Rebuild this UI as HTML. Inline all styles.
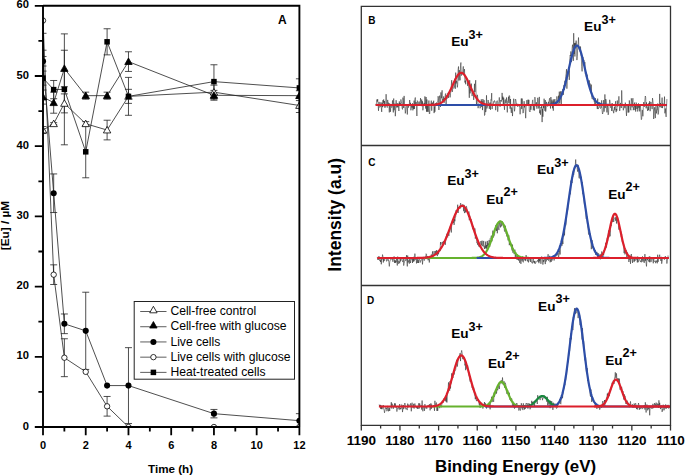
<!DOCTYPE html><html><head><meta charset="utf-8"><style>html,body{margin:0;padding:0;background:#fff;overflow:hidden}svg{display:block}</style></head><body><svg width="685" height="476" viewBox="0 0 685 476">
<rect width="685" height="476" fill="#fff"/>
<defs><clipPath id="cpA"><rect x="43" y="5.8" width="256.4" height="421.2"/></clipPath></defs>
<g clip-path="url(#cpA)">
<polyline points="43.00,130.05 53.68,123.74 64.37,103.38 85.73,123.74 107.10,130.05 128.47,96.36 213.94,92.15 299.40,105.48" fill="none" stroke="#222" stroke-width="0.8"/>
<polyline points="43.00,97.06 53.68,102.68 64.37,68.49 85.73,95.66 107.10,95.66 128.47,61.61 213.94,95.31 299.40,95.66" fill="none" stroke="#222" stroke-width="0.8"/>
<polyline points="43.00,61.26 53.68,193.23 64.37,323.81 85.73,330.83 107.10,385.58 128.47,385.58 213.94,413.66 299.40,420.68" fill="none" stroke="#222" stroke-width="0.8"/>
<polyline points="43.00,20.54 53.68,274.67 64.37,357.71 85.73,371.82 107.10,406.29 128.47,427.00 213.94,427.00 299.40,427.00" fill="none" stroke="#222" stroke-width="0.8"/>
<polyline points="43.00,78.11 53.68,89.62 64.37,89.34 85.73,151.82 107.10,41.81 128.47,96.36 213.94,81.62 299.40,87.93" fill="none" stroke="#222" stroke-width="0.8"/>
<path d="M43.00,126.54V133.56M39.50,126.54h7M39.50,133.56h7" stroke="#222" stroke-width="0.8" fill="none"/>
<path d="M53.68,122.68V124.79M50.18,122.68h7M50.18,124.79h7" stroke="#222" stroke-width="0.8" fill="none"/>
<path d="M64.37,93.90V112.86M60.87,93.90h7M60.87,112.86h7" stroke="#222" stroke-width="0.8" fill="none"/>
<path d="M85.73,121.63V125.84M82.23,121.63h7M82.23,125.84h7" stroke="#222" stroke-width="0.8" fill="none"/>
<path d="M107.10,120.23V139.88M103.60,120.23h7M103.60,139.88h7" stroke="#222" stroke-width="0.8" fill="none"/>
<path d="M128.47,89.34V103.38M124.97,89.34h7M124.97,103.38h7" stroke="#222" stroke-width="0.8" fill="none"/>
<path d="M213.94,85.13V99.17M210.44,85.13h7M210.44,99.17h7" stroke="#222" stroke-width="0.8" fill="none"/>
<path d="M299.40,98.46V112.50M295.90,98.46h7M295.90,112.50h7" stroke="#222" stroke-width="0.8" fill="none"/>
<path d="M43.00,90.04V104.08M39.50,90.04h7M39.50,104.08h7" stroke="#222" stroke-width="0.8" fill="none"/>
<path d="M53.68,92.15V113.21M50.18,92.15h7M50.18,113.21h7" stroke="#222" stroke-width="0.8" fill="none"/>
<path d="M64.37,50.24V86.74M60.87,50.24h7M60.87,86.74h7" stroke="#222" stroke-width="0.8" fill="none"/>
<path d="M85.73,92.15V99.17M82.23,92.15h7M82.23,99.17h7" stroke="#222" stroke-width="0.8" fill="none"/>
<path d="M107.10,92.15V99.17M103.60,92.15h7M103.60,99.17h7" stroke="#222" stroke-width="0.8" fill="none"/>
<path d="M128.47,51.78V71.44M124.97,51.78h7M124.97,71.44h7" stroke="#222" stroke-width="0.8" fill="none"/>
<path d="M213.94,90.39V100.22M210.44,90.39h7M210.44,100.22h7" stroke="#222" stroke-width="0.8" fill="none"/>
<path d="M299.40,90.74V100.57M295.90,90.74h7M295.90,100.57h7" stroke="#222" stroke-width="0.8" fill="none"/>
<path d="M43.00,56.48V66.03M39.50,56.48h7M39.50,66.03h7" stroke="#222" stroke-width="0.8" fill="none"/>
<path d="M53.68,173.93V212.54M50.18,173.93h7M50.18,212.54h7" stroke="#222" stroke-width="0.8" fill="none"/>
<path d="M64.37,313.98V333.63M60.87,313.98h7M60.87,333.63h7" stroke="#222" stroke-width="0.8" fill="none"/>
<path d="M85.73,292.22V369.44M82.23,292.22h7M82.23,369.44h7" stroke="#222" stroke-width="0.8" fill="none"/>
<path d="M128.47,347.67V423.49M124.97,347.67h7M124.97,423.49h7" stroke="#222" stroke-width="0.8" fill="none"/>
<path d="M213.94,409.45V417.87M210.44,409.45h7M210.44,417.87h7" stroke="#222" stroke-width="0.8" fill="none"/>
<path d="M299.40,413.66V427.70M295.90,413.66h7M295.90,427.70h7" stroke="#222" stroke-width="0.8" fill="none"/>
<path d="M53.68,264.84V284.49M50.18,264.84h7M50.18,284.49h7" stroke="#222" stroke-width="0.8" fill="none"/>
<path d="M64.37,338.76V376.67M60.87,338.76h7M60.87,376.67h7" stroke="#222" stroke-width="0.8" fill="none"/>
<path d="M107.10,396.46V416.12M103.60,396.46h7M103.60,416.12h7" stroke="#222" stroke-width="0.8" fill="none"/>
<path d="M43.00,71.09V85.13M39.50,71.09h7M39.50,85.13h7" stroke="#222" stroke-width="0.8" fill="none"/>
<path d="M53.68,80.49V98.74M50.18,80.49h7M50.18,98.74h7" stroke="#222" stroke-width="0.8" fill="none"/>
<path d="M64.37,33.88V144.80M60.87,33.88h7M60.87,144.80h7" stroke="#222" stroke-width="0.8" fill="none"/>
<path d="M85.73,125.84V177.79M82.23,125.84h7M82.23,177.79h7" stroke="#222" stroke-width="0.8" fill="none"/>
<path d="M107.10,28.76V54.87M103.60,28.76h7M103.60,54.87h7" stroke="#222" stroke-width="0.8" fill="none"/>
<path d="M128.47,77.40V115.31M124.97,77.40h7M124.97,115.31h7" stroke="#222" stroke-width="0.8" fill="none"/>
<path d="M213.94,64.77V98.46M210.44,64.77h7M210.44,98.46h7" stroke="#222" stroke-width="0.8" fill="none"/>
<path d="M299.40,78.81V97.06M295.90,78.81h7M295.90,97.06h7" stroke="#222" stroke-width="0.8" fill="none"/>
<path d="M43,33.3V50.2M39.5,33.3h7M39.5,50.2h7" stroke="#222" stroke-width="0.8" fill="none"/>
<polygon points="43.00,126.45 39.30,132.95 46.70,132.95" fill="#fff" stroke="#000" stroke-width="0.8"/>
<polygon points="53.68,120.14 49.98,126.64 57.38,126.64" fill="#fff" stroke="#000" stroke-width="0.8"/>
<polygon points="64.37,99.78 60.67,106.28 68.07,106.28" fill="#fff" stroke="#000" stroke-width="0.8"/>
<polygon points="85.73,120.14 82.03,126.64 89.43,126.64" fill="#fff" stroke="#000" stroke-width="0.8"/>
<polygon points="107.10,126.45 103.40,132.95 110.80,132.95" fill="#fff" stroke="#000" stroke-width="0.8"/>
<polygon points="128.47,92.76 124.77,99.26 132.17,99.26" fill="#fff" stroke="#000" stroke-width="0.8"/>
<polygon points="213.94,88.55 210.24,95.05 217.64,95.05" fill="#fff" stroke="#000" stroke-width="0.8"/>
<polygon points="299.40,101.88 295.70,108.38 303.10,108.38" fill="#fff" stroke="#000" stroke-width="0.8"/>
<polygon points="43.00,93.46 39.30,99.96 46.70,99.96" fill="#000" stroke="#000" stroke-width="0.8"/>
<polygon points="53.68,99.08 49.98,105.58 57.38,105.58" fill="#000" stroke="#000" stroke-width="0.8"/>
<polygon points="64.37,64.89 60.67,71.39 68.07,71.39" fill="#000" stroke="#000" stroke-width="0.8"/>
<polygon points="85.73,92.06 82.03,98.56 89.43,98.56" fill="#000" stroke="#000" stroke-width="0.8"/>
<polygon points="107.10,92.06 103.40,98.56 110.80,98.56" fill="#000" stroke="#000" stroke-width="0.8"/>
<polygon points="128.47,58.01 124.77,64.51 132.17,64.51" fill="#000" stroke="#000" stroke-width="0.8"/>
<polygon points="213.94,91.71 210.24,98.21 217.64,98.21" fill="#000" stroke="#000" stroke-width="0.8"/>
<polygon points="299.40,92.06 295.70,98.56 303.10,98.56" fill="#000" stroke="#000" stroke-width="0.8"/>
<circle cx="43.00" cy="61.26" r="3.05" fill="#000"/>
<circle cx="53.68" cy="193.23" r="3.05" fill="#000"/>
<circle cx="64.37" cy="323.81" r="3.05" fill="#000"/>
<circle cx="85.73" cy="330.83" r="3.05" fill="#000"/>
<circle cx="107.10" cy="385.58" r="3.05" fill="#000"/>
<circle cx="128.47" cy="385.58" r="3.05" fill="#000"/>
<circle cx="213.94" cy="413.66" r="3.05" fill="#000"/>
<circle cx="299.40" cy="420.68" r="3.05" fill="#000"/>
<circle cx="43.00" cy="20.54" r="2.7" fill="#fff" stroke="#000" stroke-width="0.8"/>
<circle cx="53.68" cy="274.67" r="2.7" fill="#fff" stroke="#000" stroke-width="0.8"/>
<circle cx="64.37" cy="357.71" r="2.7" fill="#fff" stroke="#000" stroke-width="0.8"/>
<circle cx="85.73" cy="371.82" r="2.7" fill="#fff" stroke="#000" stroke-width="0.8"/>
<circle cx="107.10" cy="406.29" r="2.7" fill="#fff" stroke="#000" stroke-width="0.8"/>
<circle cx="128.47" cy="427.00" r="2.7" fill="#fff" stroke="#000" stroke-width="0.8"/>
<circle cx="213.94" cy="427.00" r="2.7" fill="#fff" stroke="#000" stroke-width="0.8"/>
<circle cx="299.40" cy="427.00" r="2.7" fill="#fff" stroke="#000" stroke-width="0.8"/>
<rect x="40.25" y="75.36" width="5.5" height="5.5" fill="#000"/>
<rect x="50.93" y="86.87" width="5.5" height="5.5" fill="#000"/>
<rect x="61.62" y="86.59" width="5.5" height="5.5" fill="#000"/>
<rect x="82.98" y="149.07" width="5.5" height="5.5" fill="#000"/>
<rect x="104.35" y="39.06" width="5.5" height="5.5" fill="#000"/>
<rect x="125.72" y="93.61" width="5.5" height="5.5" fill="#000"/>
<rect x="211.19" y="78.87" width="5.5" height="5.5" fill="#000"/>
<rect x="296.65" y="85.18" width="5.5" height="5.5" fill="#000"/>
</g>
<path d="M43,5.8H299.4V427M43,5.8V427H299.4" fill="none" stroke="#000" stroke-width="1.9"/>
<path d="M34.8,427.00H43M34.8,356.80H43M34.8,286.60H43M34.8,216.40H43M34.8,146.20H43M34.8,76.00H43M34.8,5.80H43M38.4,391.90H43M38.4,321.70H43M38.4,251.50H43M38.4,181.30H43M38.4,111.10H43M38.4,40.90H43M43.00,427V435.2M85.73,427V435.2M128.47,427V435.2M171.20,427V435.2M213.94,427V435.2M256.67,427V435.2M299.40,427V435.2M64.37,427V431.4M107.10,427V431.4M149.84,427V431.4M192.57,427V431.4M235.30,427V431.4M278.04,427V431.4" stroke="#000" stroke-width="1.8" fill="none"/>
<text x="28.9" y="429.60" font-family="Liberation Sans, sans-serif" font-size="11.2" font-weight="bold" text-anchor="end">0</text>
<text x="28.9" y="359.40" font-family="Liberation Sans, sans-serif" font-size="11.2" font-weight="bold" text-anchor="end">10</text>
<text x="28.9" y="289.20" font-family="Liberation Sans, sans-serif" font-size="11.2" font-weight="bold" text-anchor="end">20</text>
<text x="28.9" y="219.00" font-family="Liberation Sans, sans-serif" font-size="11.2" font-weight="bold" text-anchor="end">30</text>
<text x="28.9" y="148.80" font-family="Liberation Sans, sans-serif" font-size="11.2" font-weight="bold" text-anchor="end">40</text>
<text x="28.9" y="78.60" font-family="Liberation Sans, sans-serif" font-size="11.2" font-weight="bold" text-anchor="end">50</text>
<text x="28.9" y="8.40" font-family="Liberation Sans, sans-serif" font-size="11.2" font-weight="bold" text-anchor="end">60</text>
<text x="43.00" y="449.4" font-family="Liberation Sans, sans-serif" font-size="11" font-weight="bold" text-anchor="middle">0</text>
<text x="85.73" y="449.4" font-family="Liberation Sans, sans-serif" font-size="11" font-weight="bold" text-anchor="middle">2</text>
<text x="128.47" y="449.4" font-family="Liberation Sans, sans-serif" font-size="11" font-weight="bold" text-anchor="middle">4</text>
<text x="171.20" y="449.4" font-family="Liberation Sans, sans-serif" font-size="11" font-weight="bold" text-anchor="middle">6</text>
<text x="213.94" y="449.4" font-family="Liberation Sans, sans-serif" font-size="11" font-weight="bold" text-anchor="middle">8</text>
<text x="256.67" y="449.4" font-family="Liberation Sans, sans-serif" font-size="11" font-weight="bold" text-anchor="middle">10</text>
<text x="299.40" y="449.4" font-family="Liberation Sans, sans-serif" font-size="11" font-weight="bold" text-anchor="middle">12</text>
<text x="148.1" y="472.9" font-family="Liberation Sans, sans-serif" font-size="10.9" font-weight="bold" textLength="45" lengthAdjust="spacingAndGlyphs">Time (h)</text>
<text transform="translate(8.9,225.6) rotate(-90)" font-family="Liberation Sans, sans-serif" font-size="11.8" font-weight="bold" text-anchor="middle">[Eu] / µM</text>
<text x="282.4" y="24" font-family="Liberation Sans, sans-serif" font-size="12" font-weight="bold" text-anchor="middle">A</text>
<rect x="134.2" y="301.5" width="160.3" height="77.7" fill="#fff" stroke="#222" stroke-width="1"/>
<path d="M140.2,311.50H166.5" stroke="#333" stroke-width="0.8"/>
<polygon points="153.40,306.30 149.70,312.80 157.10,312.80" fill="#fff" stroke="#000" stroke-width="0.8"/>
<text x="170.4" y="315.40" font-family="Liberation Sans, sans-serif" font-size="12.15">Cell-free control</text>
<path d="M140.2,326.72H166.5" stroke="#333" stroke-width="0.8"/>
<polygon points="153.40,321.52 149.70,328.02 157.10,328.02" fill="#000" stroke="#000" stroke-width="0.8"/>
<text x="170.4" y="330.47" font-family="Liberation Sans, sans-serif" font-size="12.15">Cell-free with glucose</text>
<path d="M140.2,341.94H166.5" stroke="#333" stroke-width="0.8"/>
<circle cx="153.40" cy="341.94" r="3.05" fill="#000"/>
<text x="170.4" y="345.54" font-family="Liberation Sans, sans-serif" font-size="12.15">Live cells</text>
<path d="M140.2,357.16H166.5" stroke="#333" stroke-width="0.8"/>
<circle cx="153.40" cy="357.16" r="2.7" fill="#fff" stroke="#000" stroke-width="0.8"/>
<text x="170.4" y="360.61" font-family="Liberation Sans, sans-serif" font-size="12.15">Live cells with glucose</text>
<path d="M140.2,372.38H166.5" stroke="#333" stroke-width="0.8"/>
<rect x="150.65" y="369.63" width="5.5" height="5.5" fill="#000"/>
<text x="170.4" y="375.68" font-family="Liberation Sans, sans-serif" font-size="12.15">Heat-treated cells</text>
<polyline points="375.7,104.4 376.1,105.5 376.5,102.5 376.9,99.5 377.3,101.6 377.7,99.2 378.1,104.5 378.5,110.8 378.9,102.3 379.3,101.9 379.7,107.4 380.1,107.1 380.5,106.5 380.9,102.3 381.3,107.5 381.7,111.9 382.1,102.7 382.5,107.2 382.9,100.2 383.3,102.7 383.7,99.4 384.1,106.5 384.5,101.0 384.9,107.9 385.3,107.0 385.7,105.3 386.1,94.2 386.5,103.9 386.9,106.6 387.3,107.6 387.7,99.9 388.1,105.1 388.5,102.7 388.9,103.4 389.3,112.4 389.7,103.5 390.1,107.3 390.5,111.8 390.9,104.7 391.3,106.8 391.7,107.6 392.1,107.0 392.5,100.4 392.9,106.4 393.3,112.4 393.7,98.5 394.1,110.3 394.5,107.0 394.9,103.5 395.3,116.2 395.7,110.0 396.1,100.2 396.5,105.8 396.9,107.6 397.3,103.4 397.7,107.2 398.1,103.4 398.5,107.0 398.9,111.0 399.3,101.4 399.7,106.0 400.1,103.1 400.5,106.0 400.9,99.4 401.3,101.9 401.7,103.3 402.1,108.2 402.5,109.4 402.9,97.6 403.3,100.5 403.7,108.0 404.1,95.9 404.5,103.9 404.9,106.3 405.3,113.4 405.7,111.0 406.1,106.4 406.5,106.1 406.9,106.4 407.3,114.5 407.7,104.7 408.1,104.8 408.5,107.6 408.9,105.1 409.3,104.6 409.7,100.0 410.1,105.1 410.5,102.8 410.9,110.3 411.3,107.6 411.7,104.3 412.1,107.8 412.5,103.3 412.9,110.4 413.3,105.8 413.7,109.1 414.1,100.6 414.5,108.9 414.9,99.2 415.3,97.5 415.7,105.4 416.1,102.1 416.5,106.6 416.9,116.0 417.3,100.6 417.7,101.1 418.1,104.6 418.5,105.5 418.9,101.9 419.3,101.6 419.7,105.9 420.1,105.2 420.5,98.1 420.9,103.2 421.3,104.2 421.7,99.5 422.1,106.3 422.5,101.3 422.9,110.3 423.3,106.7 423.7,106.2 424.1,102.9 424.5,105.2 424.9,96.4 425.3,101.0 425.7,108.6 426.1,97.0 426.5,111.7 426.9,99.5 427.3,111.7 427.7,104.1 428.1,111.9 428.5,108.7 428.9,100.5 429.3,113.5 429.7,114.0 430.1,106.2 430.5,104.7 430.9,104.8 431.3,100.6 431.7,110.7 432.1,102.9 432.5,105.6 432.9,102.4 433.3,103.6 433.7,100.7 434.1,113.1 434.5,106.4 434.9,111.8 435.3,106.9 435.7,103.1 436.1,104.3 436.5,102.6 436.9,104.7 437.3,102.2 437.7,102.0 438.1,96.2 438.5,98.4 438.9,110.0 439.3,98.0 439.7,95.6 440.1,102.0 440.5,106.9 440.9,92.4 441.3,98.3 441.7,96.0 442.1,90.3 442.5,102.8 442.9,99.2 443.3,100.0 443.7,96.4 444.1,102.9 444.5,98.1 444.9,100.0 445.3,94.7 445.7,93.5 446.1,105.7 446.5,95.5 446.9,98.9 447.3,96.5 447.7,93.8 448.1,92.8 448.5,97.9 448.9,92.4 449.3,92.3 449.7,92.3 450.1,97.4 450.5,93.7 450.9,91.2 451.3,85.3 451.7,80.2 452.1,92.0 452.5,91.5 452.9,85.0 453.3,87.9 453.7,88.4 454.1,87.7 454.5,87.3 454.9,78.7 455.3,88.8 455.7,72.6 456.1,83.5 456.5,80.7 456.9,82.2 457.3,87.4 457.7,84.8 458.1,69.7 458.5,66.5 458.9,80.6 459.3,70.1 459.7,75.7 460.1,80.3 460.5,65.7 460.9,62.5 461.3,75.7 461.7,74.2 462.1,72.5 462.5,74.2 462.9,69.5 463.3,66.4 463.7,75.0 464.1,71.6 464.5,69.1 464.9,82.5 465.3,80.6 465.7,84.3 466.1,77.3 466.5,79.8 466.9,78.5 467.3,79.5 467.7,85.9 468.1,80.9 468.5,87.5 468.9,87.9 469.3,97.8 469.7,80.2 470.1,93.4 470.5,89.2 470.9,90.5 471.3,83.6 471.7,89.4 472.1,96.1 472.5,92.2 472.9,93.5 473.3,92.0 473.7,99.9 474.1,94.4 474.5,83.8 474.9,92.0 475.3,86.0 475.7,80.2 476.1,94.6 476.5,105.0 476.9,99.7 477.3,94.8 477.7,97.0 478.1,108.2 478.5,104.1 478.9,104.1 479.3,103.9 479.7,104.5 480.1,108.3 480.5,107.0 480.9,105.4 481.3,99.3 481.7,106.9 482.1,101.3 482.5,110.1 482.9,99.0 483.3,104.9 483.7,106.0 484.1,100.2 484.5,115.5 484.9,114.8 485.3,106.0 485.7,112.1 486.1,110.1 486.5,95.3 486.9,108.5 487.3,106.4 487.7,106.3 488.1,100.0 488.5,103.1 488.9,102.9 489.3,108.9 489.7,104.4 490.1,102.5 490.5,109.8 490.9,99.6 491.3,100.3 491.7,93.1 492.1,109.1 492.5,105.8 492.9,105.3 493.3,104.0 493.7,101.5 494.1,102.3 494.5,100.5 494.9,101.2 495.3,102.8 495.7,110.2 496.1,105.9 496.5,103.2 496.9,100.9 497.3,100.7 497.7,111.7 498.1,106.2 498.5,103.7 498.9,101.4 499.3,97.4 499.7,102.3 500.1,106.7 500.5,100.1 500.9,100.6 501.3,100.3 501.7,101.6 502.1,92.9 502.5,99.6 502.9,96.6 503.3,105.5 503.7,97.7 504.1,104.8 504.5,109.8 504.9,100.9 505.3,99.5 505.7,103.3 506.1,102.3 506.5,97.5 506.9,104.7 507.3,112.4 507.7,101.1 508.1,101.2 508.5,96.7 508.9,103.2 509.3,95.5 509.7,96.4 510.1,108.7 510.5,99.0 510.9,109.7 511.3,112.9 511.7,107.5 512.1,109.3 512.5,116.1 512.9,105.4 513.3,103.0 513.7,98.7 514.1,104.8 514.5,111.3 514.9,108.4 515.3,99.0 515.7,99.5 516.1,101.4 516.5,105.6 516.9,103.7 517.3,106.1 517.7,106.7 518.1,103.9 518.5,105.2 518.9,106.2 519.3,104.8 519.7,107.6 520.1,114.3 520.5,108.4 520.9,106.3 521.3,98.5 521.7,109.1 522.1,98.5 522.5,101.8 522.9,113.2 523.3,112.8 523.7,108.8 524.1,101.2 524.5,107.4 524.9,105.4 525.3,111.1 525.7,118.2 526.1,107.8 526.5,102.4 526.9,100.1 527.3,105.2 527.7,104.4 528.1,99.6 528.5,105.7 528.9,99.9 529.3,111.2 529.7,111.4 530.1,112.0 530.5,104.9 530.9,109.8 531.3,106.7 531.7,105.4 532.1,105.4 532.5,100.6 532.9,99.8 533.3,110.3 533.7,105.4 534.1,107.0 534.5,110.5 534.9,97.1 535.3,101.4 535.7,105.7 536.1,106.4 536.5,102.3 536.9,108.7 537.3,104.6 537.7,97.8 538.1,99.5 538.5,108.4 538.9,107.5 539.3,96.9 539.7,113.2 540.1,110.3 540.5,114.7 540.9,107.1 541.3,108.1 541.7,104.5 542.1,122.1 542.5,108.8 542.9,116.7 543.3,105.2 543.7,108.2 544.1,98.7 544.5,104.4 544.9,110.8 545.3,100.1 545.7,111.6 546.1,108.3 546.5,101.9 546.9,104.6 547.3,104.7 547.7,106.5 548.1,103.7 548.5,101.8 548.9,103.8 549.3,99.8 549.7,98.2 550.1,104.1 550.5,108.5 550.9,97.0 551.3,104.5 551.7,101.4 552.1,99.7 552.5,108.3 552.9,101.3 553.3,110.7 553.7,99.4 554.1,104.8 554.5,101.7 554.9,99.1 555.3,105.5 555.7,101.8 556.1,105.3 556.5,101.8 556.9,96.4 557.3,100.8 557.7,101.1 558.1,105.1 558.5,95.7 558.9,99.9 559.3,91.6 559.7,103.5 560.1,95.0 560.5,91.4 560.9,100.0 561.3,105.5 561.7,91.4 562.1,92.6 562.5,92.9 562.9,89.1 563.3,94.9 563.7,86.6 564.1,84.9 564.5,89.8 564.9,80.7 565.3,85.4 565.7,76.4 566.1,73.8 566.5,69.2 566.9,88.7 567.3,75.2 567.7,76.9 568.1,73.7 568.5,73.1 568.9,70.7 569.3,79.9 569.7,60.4 570.1,55.0 570.5,55.8 570.9,51.4 571.3,62.1 571.7,60.8 572.1,48.4 572.5,44.7 572.9,50.4 573.3,60.8 573.7,33.2 574.1,54.0 574.5,43.2 574.9,56.5 575.3,42.8 575.7,48.2 576.1,40.6 576.5,44.5 576.9,60.1 577.3,56.3 577.7,47.9 578.1,44.5 578.5,37.5 578.9,47.2 579.3,50.0 579.7,50.5 580.1,51.6 580.5,46.5 580.9,54.8 581.3,56.7 581.7,66.5 582.1,71.4 582.5,60.0 582.9,57.0 583.3,62.0 583.7,59.7 584.1,60.3 584.5,66.0 584.9,62.2 585.3,74.1 585.7,72.2 586.1,76.3 586.5,75.8 586.9,74.5 587.3,74.9 587.7,80.4 588.1,80.2 588.5,86.0 588.9,86.1 589.3,80.4 589.7,89.4 590.1,83.5 590.5,88.9 590.9,92.2 591.3,84.6 591.7,97.3 592.1,99.1 592.5,98.8 592.9,98.4 593.3,99.5 593.7,97.2 594.1,101.4 594.5,100.5 594.9,104.1 595.3,98.1 595.7,105.5 596.1,105.4 596.5,104.5 596.9,103.6 597.3,108.9 597.7,98.6 598.1,109.1 598.5,107.9 598.9,107.6 599.3,107.6 599.7,102.2 600.1,104.0 600.5,108.6 600.9,108.2 601.3,107.8 601.7,100.3 602.1,110.7 602.5,114.0 602.9,113.1 603.3,109.1 603.7,100.1 604.1,111.7 604.5,106.1 604.9,94.4 605.3,108.1 605.7,99.0 606.1,99.9 606.5,103.1 606.9,112.4 607.3,104.6 607.7,107.8 608.1,114.9 608.5,114.1 608.9,105.8 609.3,104.9 609.7,99.8 610.1,102.2 610.5,107.5 610.9,107.4 611.3,106.3 611.7,111.0 612.1,103.0 612.5,106.9 612.9,111.1 613.3,110.7 613.7,113.2 614.1,110.1 614.5,106.8 614.9,110.3 615.3,104.0 615.7,101.2 616.1,112.1 616.5,109.0 616.9,110.6 617.3,100.5 617.7,106.4 618.1,104.8 618.5,103.2 618.9,96.3 619.3,105.3 619.7,110.9 620.1,108.1 620.5,102.9 620.9,105.0 621.3,108.0 621.7,90.4 622.1,102.4 622.5,105.1 622.9,105.5 623.3,110.3 623.7,107.8 624.1,104.4 624.5,105.1 624.9,108.2 625.3,102.6 625.7,105.6 626.1,110.6 626.5,115.9 626.9,105.8 627.3,106.3 627.7,107.3 628.1,112.6 628.5,105.6 628.9,112.4 629.3,100.4 629.7,104.1 630.1,104.0 630.5,108.9 630.9,110.3 631.3,98.3 631.7,101.4 632.1,107.4 632.5,102.6 632.9,98.2 633.3,110.2 633.7,107.3 634.1,107.2 634.5,102.6 634.9,110.1 635.3,104.5 635.7,111.6 636.1,102.5 636.5,103.4 636.9,108.9 637.3,104.8 637.7,111.5 638.1,109.4 638.5,103.4 638.9,107.8 639.3,105.4 639.7,111.4 640.1,104.1 640.5,105.5 640.9,114.1 641.3,119.7 641.7,119.0 642.1,109.9 642.5,110.5 642.9,116.3 643.3,107.4 643.7,102.1 644.1,106.2 644.5,106.8 644.9,100.0 645.3,96.0 645.7,97.4 646.1,108.3 646.5,102.4 646.9,106.3 647.3,108.7 647.7,111.0 648.1,106.4 648.5,110.1 648.9,102.9 649.3,104.9 649.7,101.2 650.1,111.2 650.5,105.5 650.9,102.0 651.3,103.9 651.7,104.6 652.1,109.1 652.5,98.1 652.9,101.0 653.3,104.5 653.7,119.0 654.1,112.0 654.5,107.3 654.9,111.5 655.3,118.1 655.7,107.0 656.1,106.1 656.5,113.4 656.9,109.5 657.3,109.8 657.7,103.5 658.1,114.5 658.5,112.7 658.9,106.7 659.3,107.0 659.7,93.9 660.1,106.8 660.5,103.0 660.9,106.3 661.3,107.9 661.7,103.5 662.1,97.6 662.5,108.1 662.9,103.4 663.3,105.9 663.7,104.9 664.1,106.2 664.5,96.6 664.9,113.3 665.3,108.5 665.7,112.6 666.1,116.9 666.5,107.7 666.9,99.0" fill="none" stroke="#1a1a1a" stroke-width="0.5"/>
<polyline points="400.0,105.00 400.5,105.00 401.0,105.00 401.5,105.00 402.0,105.00 402.5,105.00 403.0,105.00 403.5,105.00 404.0,105.00 404.5,105.00 405.0,105.00 405.5,105.00 406.0,105.00 406.5,105.00 407.0,105.00 407.5,105.00 408.0,105.00 408.5,105.00 409.0,105.00 409.5,105.00 410.0,105.00 410.5,105.00 411.0,105.00 411.5,105.00 412.0,105.00 412.5,105.00 413.0,105.00 413.5,105.00 414.0,105.00 414.5,105.00 415.0,105.00 415.5,105.00 416.0,105.00 416.5,105.00 417.0,105.00 417.5,105.00 418.0,105.00 418.5,105.00 419.0,105.00 419.5,105.00 420.0,105.00 420.5,105.00 421.0,105.00 421.5,105.00 422.0,105.00 422.5,105.00 423.0,105.00 423.5,105.00 424.0,105.00 424.5,105.00 425.0,105.00 425.5,105.00 426.0,105.00 426.5,105.00 427.0,105.00 427.5,105.00 428.0,105.00 428.5,105.00 429.0,105.00 429.5,105.00 430.0,105.00 430.5,105.00 431.0,105.00 431.5,105.00 432.0,105.00 432.5,105.00 433.0,105.00 433.5,105.00 434.0,105.00 434.5,105.00 435.0,105.00 435.5,105.00 436.0,105.00 436.5,105.00 437.0,105.00 437.5,105.00 438.0,105.00 438.5,105.00 439.0,105.00 439.5,105.00 440.0,105.00 440.5,105.00 441.0,105.00 441.5,105.00 442.0,105.00 442.5,105.00 443.0,105.00 443.5,105.00 444.0,105.00 444.5,105.00 445.0,105.00 445.5,105.00 446.0,105.00 446.5,105.00 447.0,105.00 447.5,105.00 448.0,105.00 448.5,105.00 449.0,105.00 449.5,105.00 450.0,105.00 450.5,105.00 451.0,105.00 451.5,105.00 452.0,105.00 452.5,105.00 453.0,105.00 453.5,105.00 454.0,105.00 454.5,105.00 455.0,105.00 455.5,105.00 456.0,105.00 456.5,105.00 457.0,105.00 457.5,105.00 458.0,105.00 458.5,105.00 459.0,105.00 459.5,105.00 460.0,105.00 460.5,105.00 461.0,105.00 461.5,105.00 462.0,105.00 462.5,105.00 463.0,105.00 463.5,105.00 464.0,105.00 464.5,105.00 465.0,105.00 465.5,105.00 466.0,105.00 466.5,105.00 467.0,105.00 467.5,105.00 468.0,105.00 468.5,105.00 469.0,105.00 469.5,105.00 470.0,105.00 470.5,105.00 471.0,105.00 471.5,105.00 472.0,105.00 472.5,105.00 473.0,105.00 473.5,105.00 474.0,105.00 474.5,105.00 475.0,105.00 475.5,105.00 476.0,105.00 476.5,105.00 477.0,105.00 477.5,105.00 478.0,105.00 478.5,105.00 479.0,105.00 479.5,105.00 480.0,105.00 480.5,105.00 481.0,105.00 481.5,105.00 482.0,105.00 482.5,105.00 483.0,105.00 483.5,105.00 484.0,105.00 484.5,105.00 485.0,105.00 485.5,105.00 486.0,105.00 486.5,105.00 487.0,105.00 487.5,105.00 488.0,105.00 488.5,105.00 489.0,105.00 489.5,105.00 490.0,105.00 490.5,105.00 491.0,105.00 491.5,105.00 492.0,105.00 492.5,105.00 493.0,105.00 493.5,105.00 494.0,105.00 494.5,105.00 495.0,105.00 495.5,105.00 496.0,105.00 496.5,105.00 497.0,105.00 497.5,105.00 498.0,105.00 498.5,105.00 499.0,105.00 499.5,105.00 500.0,105.00 500.5,105.00 501.0,105.00 501.5,105.00 502.0,105.00 502.5,105.00 503.0,105.00 503.5,105.00 504.0,105.00 504.5,105.00 505.0,105.00 505.5,105.00 506.0,105.00 506.5,105.00 507.0,105.00 507.5,105.00 508.0,105.00 508.5,105.00 509.0,105.00 509.5,105.00 510.0,105.00 510.5,105.00 511.0,105.00 511.5,105.00 512.0,105.00 512.5,105.00 513.0,105.00 513.5,105.00 514.0,105.00 514.5,105.00 515.0,105.00 515.5,105.00 516.0,105.00 516.5,105.00 517.0,105.00 517.5,105.00 518.0,105.00 518.5,105.00 519.0,105.00 519.5,105.00 520.0,105.00 520.5,105.00 521.0,105.00 521.5,105.00 522.0,105.00 522.5,105.00 523.0,105.00 523.5,105.00 524.0,105.00 524.5,105.00 525.0,105.00 525.5,105.00 526.0,105.00 526.5,105.00 527.0,105.00 527.5,105.00 528.0,105.00 528.5,105.00 529.0,105.00 529.5,105.00 530.0,105.00 530.5,105.00 531.0,105.00 531.5,105.00 532.0,105.00 532.5,105.00 533.0,105.00 533.5,105.00 534.0,105.00 534.5,105.00 535.0,105.00 535.5,105.00 536.0,105.00 536.5,105.00 537.0,105.00 537.5,105.00 538.0,105.00 538.5,105.00 539.0,105.00 539.5,105.00 540.0,105.00 540.5,105.00 541.0,105.00 541.5,105.00 542.0,104.99 542.5,104.99 543.0,104.99 543.5,104.99 544.0,104.98 544.5,104.98 545.0,104.97 545.5,104.97 546.0,104.96 546.5,104.95 547.0,104.93 547.5,104.92 548.0,104.90 548.5,104.87 549.0,104.84 549.5,104.81 550.0,104.76 550.5,104.71 551.0,104.64 551.5,104.56 552.0,104.47 552.5,104.36 553.0,104.23 553.5,104.08 554.0,103.91 554.5,103.70 555.0,103.46 555.5,103.19 556.0,102.87 556.5,102.50 557.0,102.09 557.5,101.62 558.0,101.09 558.5,100.49 559.0,99.82 559.5,99.08 560.0,98.25 560.5,97.34 561.0,96.33 561.5,95.24 562.0,94.04 562.5,92.75 563.0,91.35 563.5,89.86 564.0,88.26 564.5,86.57 565.0,84.78 565.5,82.90 566.0,80.94 566.5,78.91 567.0,76.81 567.5,74.66 568.0,72.46 568.5,70.25 569.0,68.02 569.5,65.80 570.0,63.61 570.5,61.45 571.0,59.36 571.5,57.36 572.0,55.45 572.5,53.66 573.0,52.01 573.5,50.52 574.0,49.19 574.5,48.06 575.0,47.11 575.5,46.38 576.0,45.87 576.5,45.57 577.0,45.50 577.5,45.66 578.0,46.05 578.5,46.65 579.0,47.47 579.5,48.49 580.0,49.70 580.5,51.10 581.0,52.65 581.5,54.36 582.0,56.20 582.5,58.15 583.0,60.19 583.5,62.31 584.0,64.48 584.5,66.69 585.0,68.91 585.5,71.14 586.0,73.34 586.5,75.52 587.0,77.65 587.5,79.73 588.0,81.73 588.5,83.66 589.0,85.50 589.5,87.26 590.0,88.91 590.5,90.47 591.0,91.92 591.5,93.28 592.0,94.53 592.5,95.69 593.0,96.75 593.5,97.71 594.0,98.59 594.5,99.39 595.0,100.10 595.5,100.74 596.0,101.31 596.5,101.82 597.0,102.26 597.5,102.66 598.0,103.00 598.5,103.30 599.0,103.56 599.5,103.79 600.0,103.98 600.5,104.15 601.0,104.29 601.5,104.41 602.0,104.51 602.5,104.60 603.0,104.67 603.5,104.73 604.0,104.78 604.5,104.82 605.0,104.86 605.5,104.88 606.0,104.91 606.5,104.93 607.0,104.94 607.5,104.95 608.0,104.96 608.5,104.97 609.0,104.98 609.5,104.98 610.0,104.99 610.5,104.99 611.0,104.99 611.5,104.99 612.0,105.00 612.5,105.00 613.0,105.00 613.5,105.00 614.0,105.00 614.5,105.00 615.0,105.00 615.5,105.00 616.0,105.00 616.5,105.00 617.0,105.00 617.5,105.00 618.0,105.00 618.5,105.00 619.0,105.00 619.5,105.00 620.0,105.00 620.5,105.00 621.0,105.00 621.5,105.00 622.0,105.00 622.5,105.00 623.0,105.00 623.5,105.00 624.0,105.00 624.5,105.00 625.0,105.00 625.5,105.00 626.0,105.00 626.5,105.00 627.0,105.00 627.5,105.00 628.0,105.00 628.5,105.00 629.0,105.00 629.5,105.00 630.0,105.00 630.5,105.00 631.0,105.00 631.5,105.00 632.0,105.00 632.5,105.00 633.0,105.00 633.5,105.00 634.0,105.00 634.5,105.00 635.0,105.00 635.5,105.00 636.0,105.00 636.5,105.00 637.0,105.00 637.5,105.00 638.0,105.00 638.5,105.00 639.0,105.00 639.5,105.00 640.0,105.00 640.5,105.00 641.0,105.00 641.5,105.00 642.0,105.00 642.5,105.00 643.0,105.00 643.5,105.00 644.0,105.00 644.5,105.00 645.0,105.00 645.5,105.00 646.0,105.00 646.5,105.00 647.0,105.00 647.5,105.00 648.0,105.00 648.5,105.00 649.0,105.00 649.5,105.00 650.0,105.00 650.5,105.00 651.0,105.00 651.5,105.00 652.0,105.00 652.5,105.00 653.0,105.00 653.5,105.00 654.0,105.00 654.5,105.00 655.0,105.00 655.5,105.00 656.0,105.00 656.5,105.00 657.0,105.00 657.5,105.00 658.0,105.00 658.5,105.00 659.0,105.00 659.5,105.00 660.0,105.00 660.5,105.00 661.0,105.00 661.5,105.00 662.0,105.00 662.5,105.00 663.0,105.00 663.5,105.00 664.0,105.00 664.5,105.00 665.0,105.00 665.5,105.00 666.0,105.00 666.5,105.00 667.0,105.00" fill="none" stroke="#2d4ea8" stroke-width="2.2" stroke-linejoin="round"/>
<polyline points="375.7,105.00 376.2,105.00 376.7,105.00 377.2,105.00 377.7,105.00 378.2,105.00 378.7,105.00 379.2,105.00 379.7,105.00 380.2,105.00 380.7,105.00 381.2,105.00 381.7,105.00 382.2,105.00 382.7,105.00 383.2,105.00 383.7,105.00 384.2,105.00 384.7,105.00 385.2,105.00 385.7,105.00 386.2,105.00 386.7,105.00 387.2,105.00 387.7,105.00 388.2,105.00 388.7,105.00 389.2,105.00 389.7,105.00 390.2,105.00 390.7,105.00 391.2,105.00 391.7,105.00 392.2,105.00 392.7,105.00 393.2,105.00 393.7,105.00 394.2,105.00 394.7,105.00 395.2,105.00 395.7,105.00 396.2,105.00 396.7,105.00 397.2,105.00 397.7,105.00 398.2,105.00 398.7,105.00 399.2,105.00 399.7,105.00 400.2,105.00 400.7,105.00 401.2,105.00 401.7,105.00 402.2,105.00 402.7,105.00 403.2,105.00 403.7,105.00 404.2,105.00 404.7,105.00 405.2,105.00 405.7,105.00 406.2,105.00 406.7,105.00 407.2,105.00 407.7,105.00 408.2,105.00 408.7,105.00 409.2,105.00 409.7,105.00 410.2,105.00 410.7,105.00 411.2,105.00 411.7,105.00 412.2,105.00 412.7,105.00 413.2,105.00 413.7,105.00 414.2,105.00 414.7,105.00 415.2,105.00 415.7,105.00 416.2,105.00 416.7,105.00 417.2,105.00 417.7,105.00 418.2,105.00 418.7,105.00 419.2,105.00 419.7,105.00 420.2,105.00 420.7,105.00 421.2,105.00 421.7,105.00 422.2,105.00 422.7,105.00 423.2,105.00 423.7,105.00 424.2,105.00 424.7,105.00 425.2,104.99 425.7,104.99 426.2,104.99 426.7,104.99 427.2,104.98 427.7,104.98 428.2,104.98 428.7,104.97 429.2,104.96 429.7,104.95 430.2,104.94 430.7,104.93 431.2,104.92 431.7,104.90 432.2,104.88 432.7,104.85 433.2,104.82 433.7,104.78 434.2,104.74 434.7,104.69 435.2,104.63 435.7,104.56 436.2,104.48 436.7,104.39 437.2,104.28 437.7,104.16 438.2,104.02 438.7,103.86 439.2,103.68 439.7,103.48 440.2,103.25 440.7,102.99 441.2,102.71 441.7,102.39 442.2,102.03 442.7,101.64 443.2,101.21 443.7,100.74 444.2,100.23 444.7,99.67 445.2,99.07 445.7,98.41 446.2,97.72 446.7,96.97 447.2,96.18 447.7,95.34 448.2,94.46 448.7,93.53 449.2,92.56 449.7,91.56 450.2,90.52 450.7,89.46 451.2,88.37 451.7,87.26 452.2,86.14 452.7,85.02 453.2,83.90 453.7,82.79 454.2,81.70 454.7,80.64 455.2,79.62 455.7,78.63 456.2,77.70 456.7,76.83 457.2,76.03 457.7,75.30 458.2,74.66 458.7,74.10 459.2,73.64 459.7,73.28 460.2,73.01 460.7,72.85 461.2,72.80 461.7,72.85 462.2,73.01 462.7,73.28 463.2,73.64 463.7,74.10 464.2,74.66 464.7,75.30 465.2,76.03 465.7,76.83 466.2,77.70 466.7,78.63 467.2,79.62 467.7,80.64 468.2,81.70 468.7,82.79 469.2,83.90 469.7,85.02 470.2,86.14 470.7,87.26 471.2,88.37 471.7,89.46 472.2,90.52 472.7,91.56 473.2,92.56 473.7,93.53 474.2,94.46 474.7,95.34 475.2,96.18 475.7,96.97 476.2,97.72 476.7,98.41 477.2,99.07 477.7,99.67 478.2,100.23 478.7,100.74 479.2,101.21 479.7,101.64 480.2,102.03 480.7,102.39 481.2,102.71 481.7,102.99 482.2,103.25 482.7,103.48 483.2,103.68 483.7,103.86 484.2,104.02 484.7,104.16 485.2,104.28 485.7,104.39 486.2,104.48 486.7,104.56 487.2,104.63 487.7,104.69 488.2,104.74 488.7,104.78 489.2,104.82 489.7,104.85 490.2,104.88 490.7,104.90 491.2,104.92 491.7,104.93 492.2,104.94 492.7,104.95 493.2,104.96 493.7,104.97 494.2,104.98 494.7,104.98 495.2,104.98 495.7,104.99 496.2,104.99 496.7,104.99 497.2,104.99 497.7,105.00 498.2,105.00 498.7,105.00 499.2,105.00 499.7,105.00 500.2,105.00 500.7,105.00 501.2,105.00 501.7,105.00 502.2,105.00 502.7,105.00 503.2,105.00 503.7,105.00 504.2,105.00 504.7,105.00 505.2,105.00 505.7,105.00 506.2,105.00 506.7,105.00 507.2,105.00 507.7,105.00 508.2,105.00 508.7,105.00 509.2,105.00 509.7,105.00 510.2,105.00 510.7,105.00 511.2,105.00 511.7,105.00 512.2,105.00 512.7,105.00 513.2,105.00 513.7,105.00 514.2,105.00 514.7,105.00 515.2,105.00 515.7,105.00 516.2,105.00 516.7,105.00 517.2,105.00 517.7,105.00 518.2,105.00 518.7,105.00 519.2,105.00 519.7,105.00 520.2,105.00 520.7,105.00 521.2,105.00 521.7,105.00 522.2,105.00 522.7,105.00 523.2,105.00 523.7,105.00 524.2,105.00 524.7,105.00 525.2,105.00 525.7,105.00 526.2,105.00 526.7,105.00 527.2,105.00 527.7,105.00 528.2,105.00 528.7,105.00 529.2,105.00 529.7,105.00 530.2,105.00 530.7,105.00 531.2,105.00 531.7,105.00 532.2,105.00 532.7,105.00 533.2,105.00 533.7,105.00 534.2,105.00 534.7,105.00 535.2,105.00 535.7,105.00 536.2,105.00 536.7,105.00 537.2,105.00 537.7,105.00 538.2,105.00 538.7,105.00 539.2,105.00 539.7,105.00 540.2,105.00 540.7,105.00 541.2,105.00 541.7,105.00 542.2,105.00 542.7,105.00 543.2,105.00 543.7,105.00 544.2,105.00 544.7,105.00 545.2,105.00 545.7,105.00 546.2,105.00 546.7,105.00 547.2,105.00 547.7,105.00 548.2,105.00 548.7,105.00 549.2,105.00 549.7,105.00 550.2,105.00 550.7,105.00 551.2,105.00 551.7,105.00 552.2,105.00 552.7,105.00 553.2,105.00 553.7,105.00 554.2,105.00 554.7,105.00 555.2,105.00 555.7,105.00 556.2,105.00 556.7,105.00 557.2,105.00 557.7,105.00 558.2,105.00 558.7,105.00 559.2,105.00 559.7,105.00 560.2,105.00 560.7,105.00 561.2,105.00 561.7,105.00 562.2,105.00 562.7,105.00 563.2,105.00 563.7,105.00 564.2,105.00 564.7,105.00 565.2,105.00 565.7,105.00 566.2,105.00 566.7,105.00 567.2,105.00 567.7,105.00 568.2,105.00 568.7,105.00 569.2,105.00 569.7,105.00 570.2,105.00 570.7,105.00 571.2,105.00 571.7,105.00 572.2,105.00 572.7,105.00 573.2,105.00 573.7,105.00 574.2,105.00 574.7,105.00 575.2,105.00 575.7,105.00 576.2,105.00 576.7,105.00 577.2,105.00 577.7,105.00 578.2,105.00 578.7,105.00 579.2,105.00 579.7,105.00 580.2,105.00 580.7,105.00 581.2,105.00 581.7,105.00 582.2,105.00 582.7,105.00 583.2,105.00 583.7,105.00 584.2,105.00 584.7,105.00 585.2,105.00 585.7,105.00 586.2,105.00 586.7,105.00 587.2,105.00 587.7,105.00 588.2,105.00 588.7,105.00 589.2,105.00 589.7,105.00 590.2,105.00 590.7,105.00 591.2,105.00 591.7,105.00 592.2,105.00 592.7,105.00 593.2,105.00 593.7,105.00 594.2,105.00 594.7,105.00 595.2,105.00 595.7,105.00 596.2,105.00 596.7,105.00 597.2,105.00 597.7,105.00 598.2,105.00 598.7,105.00 599.2,105.00 599.7,105.00 600.2,105.00 600.7,105.00 601.2,105.00 601.7,105.00 602.2,105.00 602.7,105.00 603.2,105.00 603.7,105.00 604.2,105.00 604.7,105.00 605.2,105.00 605.7,105.00 606.2,105.00 606.7,105.00 607.2,105.00 607.7,105.00 608.2,105.00 608.7,105.00 609.2,105.00 609.7,105.00 610.2,105.00 610.7,105.00 611.2,105.00 611.7,105.00 612.2,105.00 612.7,105.00 613.2,105.00 613.7,105.00 614.2,105.00 614.7,105.00 615.2,105.00 615.7,105.00 616.2,105.00 616.7,105.00 617.2,105.00 617.7,105.00 618.2,105.00 618.7,105.00 619.2,105.00 619.7,105.00 620.2,105.00 620.7,105.00 621.2,105.00 621.7,105.00 622.2,105.00 622.7,105.00 623.2,105.00 623.7,105.00 624.2,105.00 624.7,105.00 625.2,105.00 625.7,105.00 626.2,105.00 626.7,105.00 627.2,105.00 627.7,105.00 628.2,105.00 628.7,105.00 629.2,105.00 629.7,105.00 630.2,105.00 630.7,105.00 631.2,105.00 631.7,105.00 632.2,105.00 632.7,105.00 633.2,105.00 633.7,105.00 634.2,105.00 634.7,105.00 635.2,105.00 635.7,105.00 636.2,105.00 636.7,105.00 637.2,105.00 637.7,105.00 638.2,105.00 638.7,105.00 639.2,105.00 639.7,105.00 640.2,105.00 640.7,105.00 641.2,105.00 641.7,105.00 642.2,105.00 642.7,105.00 643.2,105.00 643.7,105.00 644.2,105.00 644.7,105.00 645.2,105.00 645.7,105.00 646.2,105.00 646.7,105.00 647.2,105.00 647.7,105.00 648.2,105.00 648.7,105.00 649.2,105.00 649.7,105.00 650.2,105.00 650.7,105.00 651.2,105.00 651.7,105.00 652.2,105.00 652.7,105.00 653.2,105.00 653.7,105.00 654.2,105.00 654.7,105.00 655.2,105.00 655.7,105.00 656.2,105.00 656.7,105.00 657.2,105.00 657.7,105.00 658.2,105.00 658.7,105.00 659.2,105.00 659.7,105.00 660.2,105.00 660.7,105.00 661.2,105.00 661.7,105.00 662.2,105.00 662.7,105.00 663.2,105.00 663.7,105.00 664.2,105.00 664.7,105.00 665.2,105.00 665.7,105.00 666.2,105.00 666.7,105.00" fill="none" stroke="#dc1f2b" stroke-width="2.2" stroke-linejoin="round"/>
<polyline points="377.3,256.9 377.7,259.7 378.1,258.9 378.5,259.7 378.9,256.1 379.3,258.0 379.7,260.6 380.1,259.9 380.5,262.0 380.9,259.3 381.3,264.3 381.7,257.2 382.1,259.4 382.5,254.6 382.9,256.3 383.3,262.5 383.7,257.6 384.1,261.1 384.5,259.7 384.9,257.4 385.3,258.9 385.7,258.4 386.1,258.4 386.5,261.3 386.9,261.1 387.3,258.3 387.7,257.7 388.1,260.5 388.5,259.7 388.9,262.5 389.3,266.4 389.7,262.3 390.1,260.4 390.5,260.2 390.9,258.8 391.3,258.8 391.7,258.5 392.1,259.8 392.5,259.4 392.9,261.8 393.3,258.8 393.7,259.0 394.1,256.4 394.5,262.8 394.9,260.1 395.3,263.0 395.7,260.7 396.1,262.3 396.5,258.4 396.9,260.8 397.3,265.5 397.7,256.6 398.1,262.3 398.5,263.7 398.9,260.9 399.3,261.9 399.7,263.3 400.1,258.9 400.5,261.4 400.9,258.5 401.3,259.0 401.7,259.3 402.1,260.6 402.5,261.4 402.9,262.1 403.3,257.7 403.7,265.6 404.1,263.4 404.5,262.1 404.9,259.2 405.3,259.6 405.7,260.8 406.1,260.2 406.5,255.2 406.9,261.0 407.3,266.4 407.7,255.5 408.1,262.5 408.5,261.3 408.9,260.3 409.3,263.7 409.7,257.4 410.1,260.3 410.5,263.0 410.9,258.9 411.3,258.2 411.7,259.4 412.1,258.1 412.5,263.0 412.9,257.3 413.3,261.7 413.7,256.8 414.1,261.3 414.5,259.5 414.9,253.6 415.3,259.7 415.7,257.2 416.1,258.7 416.5,263.4 416.9,257.1 417.3,257.2 417.7,263.0 418.1,259.7 418.5,263.0 418.9,260.1 419.3,257.4 419.7,259.4 420.1,262.6 420.5,262.1 420.9,260.0 421.3,260.2 421.7,259.8 422.1,258.6 422.5,264.4 422.9,259.7 423.3,256.8 423.7,258.1 424.1,260.7 424.5,260.3 424.9,258.2 425.3,256.7 425.7,258.0 426.1,253.7 426.5,254.3 426.9,259.1 427.3,256.0 427.7,258.2 428.1,260.3 428.5,259.1 428.9,257.6 429.3,262.5 429.7,258.8 430.1,256.2 430.5,258.6 430.9,257.7 431.3,254.5 431.7,256.6 432.1,255.9 432.5,251.4 432.9,255.5 433.3,255.0 433.7,254.3 434.1,251.0 434.5,253.8 434.9,254.2 435.3,254.2 435.7,250.9 436.1,255.0 436.5,250.2 436.9,252.5 437.3,256.1 437.7,250.8 438.1,250.9 438.5,254.3 438.9,250.0 439.3,249.5 439.7,249.9 440.1,251.1 440.5,242.0 440.9,244.7 441.3,243.5 441.7,242.6 442.1,242.5 442.5,242.0 442.9,244.5 443.3,241.1 443.7,243.5 444.1,243.9 444.5,240.4 444.9,241.9 445.3,244.8 445.7,240.1 446.1,236.4 446.5,236.8 446.9,233.7 447.3,236.3 447.7,237.3 448.1,232.2 448.5,233.2 448.9,235.9 449.3,230.5 449.7,231.3 450.1,226.8 450.5,226.2 450.9,226.0 451.3,232.5 451.7,224.2 452.1,222.8 452.5,221.6 452.9,221.6 453.3,222.8 453.7,220.5 454.1,224.9 454.5,218.7 454.9,221.3 455.3,217.1 455.7,217.1 456.1,210.2 456.5,213.2 456.9,212.5 457.3,211.2 457.7,204.7 458.1,213.0 458.5,208.5 458.9,207.7 459.3,207.7 459.7,207.2 460.1,208.6 460.5,203.1 460.9,203.7 461.3,207.2 461.7,206.6 462.1,205.1 462.5,204.7 462.9,204.3 463.3,207.1 463.7,211.2 464.1,204.9 464.5,213.1 464.9,211.6 465.3,208.2 465.7,212.4 466.1,206.4 466.5,206.3 466.9,208.4 467.3,212.0 467.7,213.3 468.1,213.9 468.5,216.8 468.9,211.5 469.3,220.2 469.7,215.6 470.1,218.6 470.5,220.2 470.9,219.0 471.3,219.4 471.7,221.6 472.1,225.5 472.5,228.3 472.9,229.3 473.3,226.2 473.7,227.9 474.1,228.8 474.5,233.7 474.9,228.5 475.3,238.6 475.7,235.5 476.1,236.1 476.5,240.3 476.9,243.1 477.3,242.3 477.7,244.8 478.1,243.0 478.5,246.2 478.9,246.5 479.3,243.2 479.7,247.1 480.1,243.8 480.5,243.5 480.9,241.0 481.3,242.6 481.7,245.5 482.1,240.6 482.5,246.0 482.9,245.9 483.3,246.4 483.7,240.9 484.1,246.7 484.5,249.0 484.9,245.7 485.3,247.9 485.7,241.6 486.1,248.9 486.5,245.1 486.9,248.4 487.3,240.9 487.7,246.5 488.1,243.4 488.5,245.3 488.9,240.2 489.3,240.3 489.7,246.9 490.1,238.5 490.5,238.1 490.9,238.4 491.3,235.7 491.7,240.6 492.1,241.2 492.5,234.0 492.9,230.6 493.3,237.5 493.7,236.6 494.1,235.1 494.5,235.2 494.9,228.9 495.3,230.0 495.7,225.9 496.1,225.0 496.5,230.9 496.9,225.7 497.3,233.3 497.7,226.7 498.1,224.2 498.5,227.8 498.9,230.1 499.3,226.0 499.7,220.8 500.1,224.8 500.5,227.4 500.9,222.0 501.3,221.2 501.7,226.4 502.1,224.4 502.5,221.5 502.9,224.2 503.3,223.9 503.7,227.6 504.1,227.9 504.5,231.5 504.9,231.1 505.3,225.7 505.7,231.8 506.1,234.0 506.5,233.8 506.9,236.5 507.3,233.6 507.7,234.0 508.1,240.4 508.5,236.8 508.9,235.5 509.3,245.2 509.7,242.1 510.1,244.4 510.5,242.9 510.9,244.0 511.3,245.3 511.7,248.0 512.1,250.5 512.5,244.6 512.9,252.7 513.3,248.6 513.7,249.4 514.1,254.1 514.5,252.8 514.9,249.7 515.3,258.2 515.7,252.3 516.1,255.5 516.5,256.1 516.9,259.6 517.3,255.7 517.7,259.6 518.1,255.9 518.5,260.5 518.9,256.3 519.3,257.5 519.7,262.8 520.1,259.3 520.5,258.9 520.9,263.9 521.3,259.6 521.7,257.0 522.1,260.7 522.5,256.5 522.9,262.0 523.3,262.4 523.7,258.4 524.1,258.4 524.5,260.3 524.9,259.9 525.3,257.5 525.7,261.1 526.1,255.1 526.5,258.9 526.9,259.2 527.3,259.7 527.7,261.4 528.1,258.1 528.5,262.4 528.9,260.8 529.3,259.7 529.7,258.1 530.1,258.5 530.5,261.9 530.9,258.7 531.3,260.7 531.7,262.7 532.1,262.4 532.5,263.4 532.9,259.0 533.3,257.3 533.7,262.4 534.1,261.1 534.5,263.3 534.9,260.9 535.3,263.7 535.7,262.8 536.1,262.3 536.5,261.6 536.9,261.1 537.3,260.5 537.7,260.3 538.1,261.9 538.5,258.2 538.9,263.2 539.3,258.9 539.7,261.3 540.1,258.8 540.5,258.5 540.9,263.8 541.3,258.5 541.7,256.5 542.1,257.9 542.5,258.9 542.9,264.6 543.3,260.1 543.7,261.8 544.1,257.4 544.5,260.5 544.9,261.4 545.3,264.1 545.7,258.4 546.1,261.5 546.5,260.8 546.9,257.7 547.3,259.9 547.7,259.1 548.1,254.2 548.5,260.7 548.9,260.4 549.3,258.0 549.7,255.8 550.1,262.3 550.5,259.4 550.9,261.1 551.3,261.9 551.7,257.4 552.1,260.5 552.5,257.9 552.9,258.2 553.3,258.0 553.7,258.1 554.1,260.5 554.5,258.1 554.9,257.3 555.3,256.7 555.7,257.8 556.1,254.5 556.5,254.9 556.9,255.5 557.3,253.8 557.7,254.4 558.1,252.7 558.5,258.3 558.9,255.8 559.3,252.7 559.7,250.3 560.1,254.5 560.5,248.6 560.9,246.2 561.3,245.7 561.7,244.3 562.1,245.6 562.5,240.2 562.9,244.0 563.3,234.3 563.7,236.5 564.1,230.0 564.5,235.4 564.9,227.3 565.3,225.6 565.7,225.8 566.1,224.2 566.5,214.7 566.9,214.3 567.3,208.4 567.7,210.1 568.1,206.5 568.5,202.8 568.9,198.6 569.3,196.5 569.7,192.3 570.1,193.6 570.5,194.3 570.9,180.6 571.3,184.6 571.7,181.7 572.1,182.9 572.5,176.0 572.9,176.6 573.3,171.2 573.7,174.9 574.1,170.6 574.5,167.8 574.9,168.2 575.3,164.9 575.7,159.5 576.1,166.8 576.5,165.8 576.9,164.7 577.3,169.7 577.7,171.7 578.1,164.8 578.5,167.5 578.9,177.3 579.3,178.4 579.7,172.5 580.1,172.7 580.5,176.4 580.9,178.6 581.3,176.8 581.7,184.2 582.1,182.0 582.5,184.7 582.9,194.2 583.3,191.8 583.7,196.6 584.1,201.7 584.5,205.1 584.9,204.4 585.3,208.3 585.7,208.6 586.1,219.0 586.5,218.6 586.9,216.4 587.3,222.2 587.7,226.7 588.1,228.3 588.5,234.0 588.9,234.7 589.3,231.6 589.7,234.7 590.1,233.5 590.5,239.4 590.9,241.0 591.3,249.2 591.7,244.2 592.1,240.2 592.5,245.1 592.9,248.3 593.3,246.0 593.7,247.8 594.1,249.7 594.5,252.1 594.9,251.4 595.3,250.2 595.7,254.9 596.1,252.4 596.5,253.2 596.9,251.9 597.3,253.9 597.7,257.9 598.1,253.0 598.5,256.8 598.9,258.8 599.3,256.1 599.7,257.3 600.1,253.9 600.5,259.3 600.9,258.6 601.3,256.4 601.7,251.5 602.1,252.9 602.5,257.2 602.9,258.2 603.3,254.0 603.7,255.2 604.1,249.7 604.5,249.5 604.9,248.9 605.3,248.7 605.7,242.8 606.1,247.6 606.5,247.3 606.9,239.8 607.3,237.8 607.7,240.7 608.1,236.6 608.5,230.5 608.9,237.3 609.3,234.0 609.7,230.8 610.1,236.3 610.5,229.3 610.9,225.2 611.3,225.9 611.7,221.0 612.1,220.1 612.5,221.8 612.9,217.7 613.3,216.8 613.7,222.0 614.1,219.0 614.5,218.4 614.9,217.5 615.3,217.5 615.7,220.8 616.1,217.2 616.5,223.5 616.9,216.5 617.3,219.6 617.7,217.7 618.1,222.0 618.5,225.7 618.9,229.7 619.3,225.3 619.7,228.8 620.1,229.6 620.5,230.6 620.9,231.5 621.3,236.9 621.7,234.3 622.1,241.1 622.5,242.8 622.9,242.7 623.3,243.4 623.7,243.9 624.1,253.1 624.5,246.4 624.9,254.4 625.3,252.9 625.7,251.2 626.1,249.9 626.5,255.7 626.9,258.0 627.3,252.4 627.7,254.6 628.1,258.5 628.5,257.5 628.9,262.0 629.3,256.5 629.7,259.5 630.1,255.8 630.5,263.8 630.9,257.4 631.3,254.0 631.7,258.6 632.1,258.4 632.5,262.9 632.9,257.6 633.3,258.3 633.7,259.8 634.1,262.1 634.5,258.3 634.9,261.0 635.3,259.9 635.7,258.2 636.1,259.3 636.5,259.4 636.9,257.4 637.3,262.4 637.7,256.5 638.1,262.3 638.5,261.8 638.9,259.3 639.3,257.9 639.7,259.3 640.1,261.0 640.5,261.7 640.9,260.7 641.3,262.3 641.7,258.7 642.1,260.5 642.5,256.4 642.9,261.8 643.3,260.4 643.7,259.2 644.1,262.9 644.5,262.0 644.9,254.1 645.3,260.8 645.7,257.4 646.1,263.2 646.5,266.4 646.9,259.2 647.3,260.2 647.7,259.1 648.1,260.1 648.5,260.4 648.9,261.7 649.3,256.4 649.7,262.3 650.1,256.7 650.5,259.7 650.9,262.1 651.3,261.4 651.7,258.0 652.1,258.8 652.5,259.6 652.9,260.6 653.3,263.3 653.7,257.5 654.1,261.4 654.5,261.5 654.9,261.2 655.3,260.9 655.7,263.2 656.1,260.7 656.5,261.5 656.9,260.6 657.3,263.3 657.7,254.7 658.1,261.9 658.5,258.2 658.9,258.2 659.3,256.7 659.7,254.7 660.1,258.4 660.5,258.0 660.9,261.0 661.3,256.8 661.7,263.7 662.1,261.1 662.5,259.9 662.9,258.7 663.3,258.3 663.7,257.3 664.1,258.5 664.5,259.6 664.9,259.0 665.3,256.1 665.7,258.7 666.1,257.3 666.5,259.7 666.9,263.6 667.3,260.8 667.7,258.7 668.1,255.7 668.5,256.2" fill="none" stroke="#1a1a1a" stroke-width="0.5"/>
<polyline points="425.0,258.00 425.5,258.00 426.0,258.00 426.5,258.00 427.0,258.00 427.5,258.00 428.0,258.00 428.5,258.00 429.0,258.00 429.5,258.00 430.0,258.00 430.5,258.00 431.0,258.00 431.5,258.00 432.0,258.00 432.5,258.00 433.0,258.00 433.5,258.00 434.0,258.00 434.5,258.00 435.0,258.00 435.5,258.00 436.0,258.00 436.5,258.00 437.0,258.00 437.5,258.00 438.0,258.00 438.5,258.00 439.0,258.00 439.5,258.00 440.0,258.00 440.5,258.00 441.0,258.00 441.5,258.00 442.0,258.00 442.5,258.00 443.0,258.00 443.5,258.00 444.0,258.00 444.5,258.00 445.0,258.00 445.5,258.00 446.0,258.00 446.5,258.00 447.0,258.00 447.5,258.00 448.0,258.00 448.5,258.00 449.0,258.00 449.5,258.00 450.0,258.00 450.5,258.00 451.0,258.00 451.5,258.00 452.0,258.00 452.5,258.00 453.0,258.00 453.5,258.00 454.0,258.00 454.5,258.00 455.0,258.00 455.5,258.00 456.0,258.00 456.5,258.00 457.0,258.00 457.5,258.00 458.0,258.00 458.5,258.00 459.0,258.00 459.5,258.00 460.0,258.00 460.5,258.00 461.0,258.00 461.5,258.00 462.0,258.00 462.5,258.00 463.0,258.00 463.5,258.00 464.0,258.00 464.5,258.00 465.0,258.00 465.5,258.00 466.0,258.00 466.5,258.00 467.0,258.00 467.5,258.00 468.0,258.00 468.5,258.00 469.0,257.99 469.5,257.99 470.0,257.99 470.5,257.99 471.0,257.98 471.5,257.98 472.0,257.97 472.5,257.96 473.0,257.95 473.5,257.94 474.0,257.92 474.5,257.90 475.0,257.88 475.5,257.85 476.0,257.81 476.5,257.76 477.0,257.71 477.5,257.64 478.0,257.56 478.5,257.46 479.0,257.35 479.5,257.22 480.0,257.06 480.5,256.88 481.0,256.66 481.5,256.42 482.0,256.14 482.5,255.81 483.0,255.44 483.5,255.02 484.0,254.55 484.5,254.02 485.0,253.43 485.5,252.78 486.0,252.06 486.5,251.27 487.0,250.40 487.5,249.47 488.0,248.46 488.5,247.38 489.0,246.24 489.5,245.02 490.0,243.75 490.5,242.41 491.0,241.03 491.5,239.61 492.0,238.16 492.5,236.69 493.0,235.21 493.5,233.74 494.0,232.28 494.5,230.86 495.0,229.49 495.5,228.18 496.0,226.95 496.5,225.81 497.0,224.78 497.5,223.86 498.0,223.08 498.5,222.44 499.0,221.95 499.5,221.61 500.0,221.43 500.5,221.41 501.0,221.56 501.5,221.87 502.0,222.33 502.5,222.94 503.0,223.70 503.5,224.58 504.0,225.59 504.5,226.71 505.0,227.93 505.5,229.22 506.0,230.58 506.5,231.99 507.0,233.44 507.5,234.91 508.0,236.39 508.5,237.87 509.0,239.32 509.5,240.75 510.0,242.14 510.5,243.48 511.0,244.77 511.5,246.00 512.0,247.16 512.5,248.25 513.0,249.27 513.5,250.22 514.0,251.10 514.5,251.90 515.0,252.64 515.5,253.31 516.0,253.91 516.5,254.45 517.0,254.93 517.5,255.36 518.0,255.74 518.5,256.07 519.0,256.36 519.5,256.62 520.0,256.84 520.5,257.03 521.0,257.19 521.5,257.33 522.0,257.44 522.5,257.54 523.0,257.62 523.5,257.69 524.0,257.75 524.5,257.80 525.0,257.84 525.5,257.87 526.0,257.90 526.5,257.92 527.0,257.94 527.5,257.95 528.0,257.96 528.5,257.97 529.0,257.98 529.5,257.98 530.0,257.99" fill="none" stroke="#66b22e" stroke-width="2.2" stroke-linejoin="round"/>
<polyline points="476.6,258.00 477.1,258.00 477.6,258.00 478.1,258.00 478.6,258.00 479.1,258.00 479.6,258.00 480.1,258.00 480.6,258.00 481.1,258.00 481.6,258.00 482.1,258.00 482.6,258.00 483.1,258.00 483.6,258.00 484.1,258.00 484.6,258.00 485.1,258.00 485.6,258.00 486.1,258.00 486.6,258.00 487.1,258.00 487.6,258.00 488.1,258.00 488.6,258.00 489.1,258.00 489.6,258.00 490.1,258.00 490.6,258.00 491.1,258.00 491.6,258.00 492.1,258.00 492.6,258.00 493.1,258.00 493.6,258.00 494.1,258.00 494.6,258.00 495.1,258.00 495.6,258.00 496.1,258.00 496.6,258.00 497.1,258.00 497.6,258.00 498.1,258.00 498.6,258.00 499.1,258.00 499.6,258.00 500.1,258.00 500.6,258.00 501.1,258.00 501.6,258.00 502.1,258.00 502.6,258.00 503.1,258.00 503.6,258.00 504.1,258.00 504.6,258.00 505.1,258.00 505.6,258.00 506.1,258.00 506.6,258.00 507.1,258.00 507.6,258.00 508.1,258.00 508.6,258.00 509.1,258.00 509.6,258.00 510.1,258.00 510.6,258.00 511.1,258.00 511.6,258.00 512.1,258.00 512.6,258.00 513.1,258.00 513.6,258.00 514.1,258.00 514.6,258.00 515.1,258.00 515.6,258.00 516.1,258.00 516.6,258.00 517.1,258.00 517.6,258.00 518.1,258.00 518.6,258.00 519.1,258.00 519.6,258.00 520.1,258.00 520.6,258.00 521.1,258.00 521.6,258.00 522.1,258.00 522.6,258.00 523.1,258.00 523.6,258.00 524.1,258.00 524.6,258.00 525.1,258.00 525.6,258.00 526.1,258.00 526.6,258.00 527.1,258.00 527.6,258.00 528.1,258.00 528.6,258.00 529.1,258.00 529.6,258.00 530.1,258.00 530.6,258.00 531.1,258.00 531.6,258.00 532.1,258.00 532.6,258.00 533.1,258.00 533.6,258.00 534.1,258.00 534.6,258.00 535.1,258.00 535.6,258.00 536.1,258.00 536.6,258.00 537.1,258.00 537.6,258.00 538.1,258.00 538.6,258.00 539.1,258.00 539.6,258.00 540.1,258.00 540.6,258.00 541.1,257.99 541.6,257.99 542.1,257.99 542.6,257.99 543.1,257.98 543.6,257.98 544.1,257.97 544.6,257.96 545.1,257.95 545.6,257.94 546.1,257.92 546.6,257.90 547.1,257.88 547.6,257.85 548.1,257.81 548.6,257.76 549.1,257.71 549.6,257.64 550.1,257.56 550.6,257.46 551.1,257.34 551.6,257.21 552.1,257.04 552.6,256.84 553.1,256.61 553.6,256.34 554.1,256.03 554.6,255.66 555.1,255.24 555.6,254.76 556.1,254.20 556.6,253.56 557.1,252.84 557.6,252.02 558.1,251.10 558.6,250.07 559.1,248.92 559.6,247.64 560.1,246.23 560.6,244.68 561.1,242.98 561.6,241.12 562.1,239.11 562.6,236.95 563.1,234.62 563.6,232.14 564.1,229.50 564.6,226.71 565.1,223.78 565.6,220.73 566.1,217.55 566.6,214.27 567.1,210.91 567.6,207.48 568.1,204.01 568.6,200.53 569.1,197.05 569.6,193.61 570.1,190.24 570.6,186.96 571.1,183.81 571.6,180.82 572.1,178.02 572.6,175.43 573.1,173.08 573.6,171.00 574.1,169.21 574.6,167.74 575.1,166.59 575.6,165.78 576.1,165.31 576.6,165.21 577.1,165.46 577.6,166.06 578.1,167.01 578.6,168.29 579.1,169.89 579.6,171.80 580.1,173.99 580.6,176.44 581.1,179.12 581.6,182.00 582.1,185.06 582.6,188.26 583.1,191.58 583.6,194.98 584.1,198.44 584.6,201.92 585.1,205.41 585.6,208.86 586.1,212.26 586.6,215.60 587.1,218.83 587.6,221.96 588.1,224.97 588.6,227.84 589.1,230.57 589.6,233.15 590.1,235.57 590.6,237.83 591.1,239.94 591.6,241.88 592.1,243.67 592.6,245.32 593.1,246.81 593.6,248.17 594.1,249.40 594.6,250.50 595.1,251.48 595.6,252.36 596.1,253.14 596.6,253.83 597.1,254.43 597.6,254.96 598.1,255.42 598.6,255.82 599.1,256.16 599.6,256.46 600.1,256.71 600.6,256.93 601.1,257.11 601.6,257.26 602.1,257.39 602.6,257.50 603.1,257.59 603.6,257.67 604.1,257.73 604.6,257.78 605.1,257.83 605.6,257.86 606.1,257.89 606.6,257.91 607.1,257.93 607.6,257.94 608.1,257.96 608.6,257.97 609.1,257.97 609.6,257.98 610.1,257.98 610.6,257.99 611.1,257.99 611.6,257.99 612.1,257.99 612.6,258.00 613.1,258.00 613.6,258.00 614.1,258.00 614.6,258.00 615.1,258.00 615.6,258.00 616.1,258.00 616.6,258.00 617.1,258.00 617.6,258.00 618.1,258.00 618.6,258.00 619.1,258.00 619.6,258.00 620.1,258.00 620.6,258.00 621.1,258.00 621.6,258.00 622.1,258.00 622.6,258.00 623.1,258.00 623.6,258.00 624.1,258.00 624.6,258.00 625.1,258.00 625.6,258.00 626.1,258.00 626.6,258.00 627.1,258.00 627.6,258.00 628.1,258.00 628.6,258.00 629.1,258.00 629.6,258.00 630.1,258.00 630.6,258.00 631.1,258.00 631.6,258.00 632.1,258.00 632.6,258.00 633.1,258.00 633.6,258.00 634.1,258.00 634.6,258.00 635.1,258.00 635.6,258.00 636.1,258.00 636.6,258.00 637.1,258.00 637.6,258.00 638.1,258.00 638.6,258.00 639.1,258.00 639.6,258.00 640.1,258.00 640.6,258.00 641.1,258.00 641.6,258.00 642.1,258.00 642.6,258.00 643.1,258.00 643.6,258.00 644.1,258.00 644.6,258.00 645.1,258.00 645.6,258.00 646.1,258.00 646.6,258.00 647.1,258.00 647.6,258.00 648.1,258.00 648.6,258.00 649.1,258.00 649.6,258.00 650.1,258.00 650.6,258.00 651.1,258.00 651.6,258.00 652.1,258.00 652.6,258.00 653.1,258.00 653.6,258.00 654.1,258.00 654.6,258.00 655.1,258.00 655.6,258.00 656.1,258.00 656.6,258.00 657.1,258.00 657.6,258.00 658.1,258.00 658.6,258.00 659.1,258.00 659.6,258.00 660.1,258.00 660.6,258.00 661.1,258.00 661.6,258.00 662.1,258.00 662.6,258.00 663.1,258.00 663.6,258.00 664.1,258.00 664.6,258.00 665.1,258.00 665.6,258.00 666.1,258.00 666.6,258.00 667.1,258.00 667.6,258.00 668.1,258.00 668.6,258.00" fill="none" stroke="#2d4ea8" stroke-width="2.2" stroke-linejoin="round"/>
<polyline points="377.3,258.00 377.8,258.00 378.3,258.00 378.8,258.00 379.3,258.00 379.8,258.00 380.3,258.00 380.8,258.00 381.3,258.00 381.8,258.00 382.3,258.00 382.8,258.00 383.3,258.00 383.8,258.00 384.3,258.00 384.8,258.00 385.3,258.00 385.8,258.00 386.3,258.00 386.8,258.00 387.3,258.00 387.8,258.00 388.3,258.00 388.8,258.00 389.3,258.00 389.8,258.00 390.3,258.00 390.8,258.00 391.3,258.00 391.8,258.00 392.3,258.00 392.8,258.00 393.3,258.00 393.8,258.00 394.3,258.00 394.8,258.00 395.3,258.00 395.8,258.00 396.3,258.00 396.8,258.00 397.3,258.00 397.8,258.00 398.3,258.00 398.8,258.00 399.3,258.00 399.8,258.00 400.3,258.00 400.8,258.00 401.3,258.00 401.8,258.00 402.3,258.00 402.8,258.00 403.3,258.00 403.8,258.00 404.3,258.00 404.8,258.00 405.3,258.00 405.8,258.00 406.3,258.00 406.8,258.00 407.3,258.00 407.8,258.00 408.3,258.00 408.8,258.00 409.3,258.00 409.8,258.00 410.3,258.00 410.8,258.00 411.3,258.00 411.8,258.00 412.3,257.99 412.8,257.99 413.3,257.99 413.8,257.99 414.3,257.99 414.8,257.99 415.3,257.99 415.8,257.98 416.3,257.98 416.8,257.98 417.3,257.97 417.8,257.97 418.3,257.96 418.8,257.95 419.3,257.94 419.8,257.93 420.3,257.92 420.8,257.91 421.3,257.90 421.8,257.88 422.3,257.86 422.8,257.84 423.3,257.81 423.8,257.78 424.3,257.75 424.8,257.71 425.3,257.67 425.8,257.62 426.3,257.57 426.8,257.50 427.3,257.43 427.8,257.36 428.3,257.27 428.8,257.17 429.3,257.06 429.8,256.94 430.3,256.81 430.8,256.66 431.3,256.50 431.8,256.32 432.3,256.12 432.8,255.90 433.3,255.66 433.8,255.39 434.3,255.11 434.8,254.79 435.3,254.45 435.8,254.08 436.3,253.68 436.8,253.25 437.3,252.79 437.8,252.29 438.3,251.75 438.8,251.18 439.3,250.56 439.8,249.91 440.3,249.22 440.8,248.48 441.3,247.70 441.8,246.88 442.3,246.02 442.8,245.11 443.3,244.16 443.8,243.16 444.3,242.13 444.8,241.05 445.3,239.94 445.8,238.79 446.3,237.60 446.8,236.38 447.3,235.12 447.8,233.84 448.3,232.54 448.8,231.21 449.3,229.87 449.8,228.52 450.3,227.16 450.8,225.79 451.3,224.43 451.8,223.08 452.3,221.73 452.8,220.41 453.3,219.11 453.8,217.84 454.3,216.60 454.8,215.41 455.3,214.26 455.8,213.17 456.3,212.13 456.8,211.16 457.3,210.26 457.8,209.42 458.3,208.67 458.8,207.99 459.3,207.41 459.8,206.91 460.3,206.50 460.8,206.18 461.3,205.96 461.8,205.83 462.3,205.80 462.8,205.89 463.3,206.09 463.8,206.40 464.3,206.83 464.8,207.38 465.3,208.03 465.8,208.78 466.3,209.63 466.8,210.58 467.3,211.61 467.8,212.72 468.3,213.91 468.8,215.16 469.3,216.47 469.8,217.83 470.3,219.23 470.8,220.68 471.3,222.14 471.8,223.63 472.3,225.13 472.8,226.64 473.3,228.15 473.8,229.64 474.3,231.13 474.8,232.59 475.3,234.03 475.8,235.44 476.3,236.81 476.8,238.15 477.3,239.44 477.8,240.69 478.3,241.89 478.8,243.04 479.3,244.14 479.8,245.19 480.3,246.19 480.8,247.13 481.3,248.02 481.8,248.86 482.3,249.65 482.8,250.38 483.3,251.07 483.8,251.71 484.3,252.30 484.8,252.85 485.3,253.36 485.8,253.82 486.3,254.25 486.8,254.64 487.3,255.00 487.8,255.33 488.3,255.62 488.8,255.89 489.3,256.13 489.8,256.35 490.3,256.55 490.8,256.72 491.3,256.88 491.8,257.02 492.3,257.14 492.8,257.25 493.3,257.35 493.8,257.44 494.3,257.51 494.8,257.58 495.3,257.64 495.8,257.69 496.3,257.73 496.8,257.77 497.3,257.80 497.8,257.83 498.3,257.86 498.8,257.88 499.3,257.90 499.8,257.91 500.3,257.93 500.8,257.94 501.3,257.95 501.8,257.96 502.3,257.96 502.8,257.97 503.3,257.98 503.8,257.98 504.3,257.98 504.8,257.99 505.3,257.99 505.8,257.99 506.3,257.99 506.8,257.99 507.3,257.99 507.8,258.00 508.3,258.00 508.8,258.00 509.3,258.00 509.8,258.00 510.3,258.00 510.8,258.00 511.3,258.00 511.8,258.00 512.3,258.00 512.8,258.00 513.3,258.00 513.8,258.00 514.3,258.00 514.8,258.00 515.3,258.00 515.8,258.00 516.3,258.00 516.8,258.00 517.3,258.00 517.8,258.00 518.3,258.00 518.8,258.00 519.3,258.00 519.8,258.00 520.3,258.00 520.8,258.00 521.3,258.00 521.8,258.00 522.3,258.00 522.8,258.00 523.3,258.00 523.8,258.00 524.3,258.00 524.8,258.00 525.3,258.00 525.8,258.00 526.3,258.00 526.8,258.00 527.3,258.00 527.8,258.00 528.3,258.00 528.8,258.00 529.3,258.00 529.8,258.00 530.3,258.00 530.8,258.00 531.3,258.00 531.8,258.00 532.3,258.00 532.8,258.00 533.3,258.00 533.8,258.00 534.3,258.00 534.8,258.00 535.3,258.00 535.8,258.00 536.3,258.00 536.8,258.00 537.3,258.00 537.8,258.00 538.3,258.00 538.8,258.00 539.3,258.00 539.8,258.00 540.3,258.00 540.8,258.00 541.3,258.00 541.8,258.00 542.3,258.00 542.8,258.00 543.3,258.00 543.8,258.00 544.3,258.00 544.8,258.00 545.3,258.00 545.8,258.00 546.3,258.00 546.8,258.00 547.3,258.00 547.8,258.00 548.3,258.00 548.8,258.00 549.3,258.00 549.8,258.00 550.3,258.00 550.8,258.00 551.3,258.00 551.8,258.00 552.3,258.00 552.8,258.00 553.3,258.00 553.8,258.00 554.3,258.00 554.8,258.00 555.3,258.00 555.8,258.00 556.3,258.00 556.8,258.00 557.3,258.00 557.8,258.00 558.3,258.00 558.8,258.00 559.3,258.00 559.8,258.00 560.3,258.00 560.8,258.00 561.3,258.00 561.8,258.00 562.3,258.00 562.8,258.00 563.3,258.00 563.8,258.00 564.3,258.00 564.8,258.00 565.3,258.00 565.8,258.00 566.3,258.00 566.8,258.00 567.3,258.00 567.8,258.00 568.3,258.00 568.8,258.00 569.3,258.00 569.8,258.00 570.3,258.00 570.8,258.00 571.3,258.00 571.8,258.00 572.3,258.00 572.8,258.00 573.3,258.00 573.8,258.00 574.3,258.00 574.8,258.00 575.3,258.00 575.8,258.00 576.3,258.00 576.8,258.00 577.3,258.00 577.8,258.00 578.3,258.00 578.8,258.00 579.3,258.00 579.8,258.00 580.3,258.00 580.8,258.00 581.3,258.00 581.8,258.00 582.3,258.00 582.8,258.00 583.3,258.00 583.8,258.00 584.3,258.00 584.8,258.00 585.3,258.00 585.8,258.00 586.3,258.00 586.8,258.00 587.3,258.00 587.8,258.00 588.3,258.00 588.8,258.00 589.3,258.00 589.8,258.00 590.3,258.00 590.8,258.00 591.3,258.00 591.8,258.00 592.3,258.00 592.8,258.00 593.3,258.00 593.8,258.00 594.3,258.00 594.8,258.00 595.3,258.00 595.8,258.00 596.3,258.00 596.8,258.00 597.3,258.00 597.8,258.00 598.3,258.00 598.8,258.00 599.3,258.00 599.8,258.00 600.3,258.00 600.8,258.00 601.3,258.00 601.8,258.00 602.3,258.00 602.8,258.00 603.3,258.00 603.8,258.00 604.3,258.00 604.8,258.00 605.3,258.00 605.8,258.00 606.3,258.00 606.8,258.00 607.3,258.00 607.8,258.00 608.3,258.00 608.8,258.00 609.3,258.00 609.8,258.00 610.3,258.00 610.8,258.00 611.3,258.00 611.8,258.00 612.3,258.00 612.8,258.00 613.3,258.00 613.8,258.00 614.3,258.00 614.8,258.00 615.3,258.00 615.8,258.00 616.3,258.00 616.8,258.00 617.3,258.00 617.8,258.00 618.3,258.00 618.8,258.00 619.3,258.00 619.8,258.00 620.3,258.00 620.8,258.00 621.3,258.00 621.8,258.00 622.3,258.00 622.8,258.00 623.3,258.00 623.8,258.00 624.3,258.00 624.8,258.00 625.3,258.00 625.8,258.00 626.3,258.00 626.8,258.00 627.3,258.00 627.8,258.00 628.3,258.00 628.8,258.00 629.3,258.00 629.8,258.00 630.3,258.00 630.8,258.00 631.3,258.00 631.8,258.00 632.3,258.00 632.8,258.00 633.3,258.00 633.8,258.00 634.3,258.00 634.8,258.00 635.3,258.00 635.8,258.00 636.3,258.00 636.8,258.00 637.3,258.00 637.8,258.00 638.3,258.00 638.8,258.00 639.3,258.00 639.8,258.00 640.3,258.00 640.8,258.00 641.3,258.00 641.8,258.00 642.3,258.00 642.8,258.00 643.3,258.00 643.8,258.00 644.3,258.00 644.8,258.00 645.3,258.00 645.8,258.00 646.3,258.00 646.8,258.00 647.3,258.00 647.8,258.00 648.3,258.00 648.8,258.00 649.3,258.00 649.8,258.00 650.3,258.00 650.8,258.00 651.3,258.00 651.8,258.00 652.3,258.00 652.8,258.00 653.3,258.00 653.8,258.00 654.3,258.00 654.8,258.00 655.3,258.00 655.8,258.00 656.3,258.00 656.8,258.00 657.3,258.00 657.8,258.00 658.3,258.00 658.8,258.00 659.3,258.00 659.8,258.00 660.3,258.00 660.8,258.00 661.3,258.00 661.8,258.00 662.3,258.00 662.8,258.00 663.3,258.00 663.8,258.00 664.3,258.00 664.8,258.00 665.3,258.00 665.8,258.00 666.3,258.00 666.8,258.00 667.3,258.00 667.8,258.00 668.3,258.00 668.8,258.00" fill="none" stroke="#dc1f2b" stroke-width="2.2" stroke-linejoin="round"/>
<polyline points="592.0,257.99 592.5,257.99 593.0,257.98 593.5,257.97 594.0,257.96 594.5,257.94 595.0,257.92 595.5,257.89 596.0,257.85 596.5,257.80 597.0,257.73 597.5,257.65 598.0,257.53 598.5,257.39 599.0,257.21 599.5,256.99 600.0,256.72 600.5,256.38 601.0,255.97 601.5,255.48 602.0,254.89 602.5,254.19 603.0,253.38 603.5,252.43 604.0,251.35 604.5,250.12 605.0,248.74 605.5,247.20 606.0,245.50 606.5,243.65 607.0,241.66 607.5,239.54 608.0,237.31 608.5,235.00 609.0,232.63 609.5,230.23 610.0,227.86 610.5,225.54 611.0,223.32 611.5,221.24 612.0,219.35 612.5,217.68 613.0,216.27 613.5,215.16 614.0,214.37 614.5,213.91 615.0,213.81 615.5,214.05 616.0,214.64 616.5,215.57 617.0,216.80 617.5,218.32 618.0,220.08 618.5,222.05 619.0,224.19 619.5,226.46 620.0,228.80 620.5,231.19 621.0,233.58 621.5,235.93 622.0,238.21 622.5,240.40 623.0,242.47 623.5,244.41 624.0,246.20 624.5,247.83 625.0,249.31 625.5,250.63 626.0,251.80 626.5,252.83 627.0,253.72 627.5,254.48 628.0,255.13 628.5,255.68 629.0,256.14 629.5,256.52 630.0,256.83 630.5,257.09 631.0,257.29 631.5,257.45 632.0,257.58 632.5,257.68 633.0,257.76 633.5,257.82 634.0,257.87 634.5,257.90 635.0,257.93 635.5,257.95 636.0,257.96 636.5,257.97 637.0,257.98 637.5,257.99 638.0,257.99 638.5,257.99 639.0,258.00 639.5,258.00 640.0,258.00 640.5,258.00 641.0,258.00 641.5,258.00 642.0,258.00 642.5,258.00 643.0,258.00 643.5,258.00 644.0,258.00 644.5,258.00 645.0,258.00 645.5,258.00 646.0,258.00 646.5,258.00 647.0,258.00 647.5,258.00 648.0,258.00 648.5,258.00 649.0,258.00 649.5,258.00 650.0,258.00 650.5,258.00 651.0,258.00 651.5,258.00 652.0,258.00 652.5,258.00 653.0,258.00 653.5,258.00 654.0,258.00 654.5,258.00 655.0,258.00 655.5,258.00 656.0,258.00 656.5,258.00 657.0,258.00 657.5,258.00 658.0,258.00 658.5,258.00 659.0,258.00 659.5,258.00 660.0,258.00 660.5,258.00 661.0,258.00 661.5,258.00 662.0,258.00 662.5,258.00 663.0,258.00 663.5,258.00 664.0,258.00 664.5,258.00 665.0,258.00 665.5,258.00 666.0,258.00 666.5,258.00 667.0,258.00 667.5,258.00 668.0,258.00 668.5,258.00" fill="none" stroke="#dc1f2b" stroke-width="2.2" stroke-linejoin="round"/>
<polyline points="378.9,404.6 379.3,404.8 379.7,406.5 380.1,404.8 380.5,408.7 380.9,405.0 381.3,409.1 381.7,406.9 382.1,409.2 382.5,406.1 382.9,406.3 383.3,405.0 383.7,409.1 384.1,410.0 384.5,412.8 384.9,410.9 385.3,408.5 385.7,407.4 386.1,408.8 386.5,407.8 386.9,411.2 387.3,410.0 387.7,405.9 388.1,406.4 388.5,411.3 388.9,409.0 389.3,407.8 389.7,411.0 390.1,407.1 390.5,406.9 390.9,406.0 391.3,402.2 391.7,408.5 392.1,403.6 392.5,405.3 392.9,405.1 393.3,408.8 393.7,407.1 394.1,407.4 394.5,403.4 394.9,406.8 395.3,403.4 395.7,407.4 396.1,407.5 396.5,406.7 396.9,411.6 397.3,408.3 397.7,408.5 398.1,407.5 398.5,406.7 398.9,409.4 399.3,409.6 399.7,404.0 400.1,409.3 400.5,408.1 400.9,409.2 401.3,408.2 401.7,404.5 402.1,404.9 402.5,412.1 402.9,408.7 403.3,405.0 403.7,409.1 404.1,407.5 404.5,404.0 404.9,403.0 405.3,404.7 405.7,409.2 406.1,408.6 406.5,408.3 406.9,409.5 407.3,410.1 407.7,403.6 408.1,407.4 408.5,405.8 408.9,404.6 409.3,405.9 409.7,406.6 410.1,406.2 410.5,403.4 410.9,405.5 411.3,411.3 411.7,404.2 412.1,402.7 412.5,407.2 412.9,407.9 413.3,407.5 413.7,403.8 414.1,408.6 414.5,404.4 414.9,403.5 415.3,404.8 415.7,406.0 416.1,407.9 416.5,407.8 416.9,406.4 417.3,408.7 417.7,406.9 418.1,408.9 418.5,403.7 418.9,403.2 419.3,408.5 419.7,403.4 420.1,405.8 420.5,406.2 420.9,405.3 421.3,405.4 421.7,409.6 422.1,400.5 422.5,408.2 422.9,411.3 423.3,406.0 423.7,406.0 424.1,407.9 424.5,410.8 424.9,404.1 425.3,407.3 425.7,406.8 426.1,408.6 426.5,407.5 426.9,408.5 427.3,405.8 427.7,406.7 428.1,405.0 428.5,405.1 428.9,406.4 429.3,406.5 429.7,404.1 430.1,410.4 430.5,406.3 430.9,403.3 431.3,408.9 431.7,404.6 432.1,407.5 432.5,406.4 432.9,407.0 433.3,406.8 433.7,405.0 434.1,406.3 434.5,410.8 434.9,400.8 435.3,406.0 435.7,406.8 436.1,403.3 436.5,402.6 436.9,410.9 437.3,405.1 437.7,410.9 438.1,407.4 438.5,406.3 438.9,407.0 439.3,407.2 439.7,408.2 440.1,406.2 440.5,405.2 440.9,404.9 441.3,407.3 441.7,405.6 442.1,400.9 442.5,401.2 442.9,403.0 443.3,400.2 443.7,400.2 444.1,398.2 444.5,399.1 444.9,400.0 445.3,400.7 445.7,397.5 446.1,401.7 446.5,395.5 446.9,402.5 447.3,395.9 447.7,393.4 448.1,389.6 448.5,382.4 448.9,387.8 449.3,387.4 449.7,390.7 450.1,381.0 450.5,388.5 450.9,381.8 451.3,383.2 451.7,373.3 452.1,379.2 452.5,376.5 452.9,378.0 453.3,375.0 453.7,370.2 454.1,374.6 454.5,372.4 454.9,370.6 455.3,370.5 455.7,369.6 456.1,365.4 456.5,360.7 456.9,359.7 457.3,366.6 457.7,363.7 458.1,360.7 458.5,357.9 458.9,358.1 459.3,357.1 459.7,355.0 460.1,353.1 460.5,361.1 460.9,354.8 461.3,352.2 461.7,350.4 462.1,352.8 462.5,358.0 462.9,359.2 463.3,357.3 463.7,359.1 464.1,359.0 464.5,357.5 464.9,365.4 465.3,363.4 465.7,370.2 466.1,361.7 466.5,364.5 466.9,368.7 467.3,366.9 467.7,365.4 468.1,368.4 468.5,373.1 468.9,375.5 469.3,376.0 469.7,380.4 470.1,381.7 470.5,381.2 470.9,381.7 471.3,382.2 471.7,385.6 472.1,388.0 472.5,387.2 472.9,389.6 473.3,389.0 473.7,387.6 474.1,389.8 474.5,395.3 474.9,395.5 475.3,399.2 475.7,396.2 476.1,399.0 476.5,401.0 476.9,401.0 477.3,398.0 477.7,399.7 478.1,401.1 478.5,399.0 478.9,403.0 479.3,404.8 479.7,401.7 480.1,407.9 480.5,402.9 480.9,403.5 481.3,403.7 481.7,402.8 482.1,405.5 482.5,404.7 482.9,408.6 483.3,406.3 483.7,406.3 484.1,404.6 484.5,402.0 484.9,405.0 485.3,403.2 485.7,407.2 486.1,404.7 486.5,408.5 486.9,406.3 487.3,406.4 487.7,405.0 488.1,405.0 488.5,406.0 488.9,406.5 489.3,402.5 489.7,404.9 490.1,409.4 490.5,402.4 490.9,401.2 491.3,399.4 491.7,396.7 492.1,402.1 492.5,398.5 492.9,398.1 493.3,401.0 493.7,401.8 494.1,392.6 494.5,396.6 494.9,394.7 495.3,393.3 495.7,392.6 496.1,390.4 496.5,393.6 496.9,390.3 497.3,388.8 497.7,390.3 498.1,388.6 498.5,386.8 498.9,385.8 499.3,389.0 499.7,385.2 500.1,383.3 500.5,381.0 500.9,382.2 501.3,380.3 501.7,383.3 502.1,383.6 502.5,377.5 502.9,383.0 503.3,384.8 503.7,383.8 504.1,381.3 504.5,387.6 504.9,383.2 505.3,382.8 505.7,384.3 506.1,388.2 506.5,392.0 506.9,393.8 507.3,392.6 507.7,390.3 508.1,392.7 508.5,393.1 508.9,395.8 509.3,392.7 509.7,398.0 510.1,400.0 510.5,398.9 510.9,401.1 511.3,398.7 511.7,398.3 512.1,401.0 512.5,405.9 512.9,406.1 513.3,403.1 513.7,407.3 514.1,404.1 514.5,408.6 514.9,406.4 515.3,404.4 515.7,407.5 516.1,404.0 516.5,403.9 516.9,403.0 517.3,407.3 517.7,406.9 518.1,407.0 518.5,406.3 518.9,410.6 519.3,406.3 519.7,405.5 520.1,410.1 520.5,410.5 520.9,408.0 521.3,403.2 521.7,405.7 522.1,408.3 522.5,406.7 522.9,410.1 523.3,403.3 523.7,408.0 524.1,405.0 524.5,409.5 524.9,406.3 525.3,408.8 525.7,404.9 526.1,403.0 526.5,403.5 526.9,404.5 527.3,403.4 527.7,408.4 528.1,408.6 528.5,406.1 528.9,403.1 529.3,405.3 529.7,404.1 530.1,409.3 530.5,406.8 530.9,407.2 531.3,404.9 531.7,400.8 532.1,403.2 532.5,401.9 532.9,404.9 533.3,403.9 533.7,401.5 534.1,402.3 534.5,406.6 534.9,400.4 535.3,400.1 535.7,401.3 536.1,399.7 536.5,399.8 536.9,401.6 537.3,404.0 537.7,395.2 538.1,399.1 538.5,398.9 538.9,398.3 539.3,397.7 539.7,397.1 540.1,400.1 540.5,396.4 540.9,397.2 541.3,397.5 541.7,397.9 542.1,397.3 542.5,400.2 542.9,397.8 543.3,398.2 543.7,397.7 544.1,395.5 544.5,396.1 544.9,395.8 545.3,399.1 545.7,397.4 546.1,397.0 546.5,400.7 546.9,401.8 547.3,396.8 547.7,405.4 548.1,401.7 548.5,401.6 548.9,404.6 549.3,402.5 549.7,401.2 550.1,408.2 550.5,400.7 550.9,403.2 551.3,405.5 551.7,401.1 552.1,403.5 552.5,404.9 552.9,409.9 553.3,402.7 553.7,405.1 554.1,407.2 554.5,406.2 554.9,403.4 555.3,407.2 555.7,406.4 556.1,407.1 556.5,408.5 556.9,408.2 557.3,406.6 557.7,406.2 558.1,402.6 558.5,404.2 558.9,404.3 559.3,401.8 559.7,402.0 560.1,398.8 560.5,403.5 560.9,404.2 561.3,397.3 561.7,398.3 562.1,395.7 562.5,398.2 562.9,394.6 563.3,392.0 563.7,389.3 564.1,388.1 564.5,383.0 564.9,385.2 565.3,379.2 565.7,380.1 566.1,376.3 566.5,376.1 566.9,369.9 567.3,369.7 567.7,360.9 568.1,362.2 568.5,356.5 568.9,354.6 569.3,351.0 569.7,350.5 570.1,338.0 570.5,342.4 570.9,333.4 571.3,339.4 571.7,326.0 572.1,326.5 572.5,321.4 572.9,330.1 573.3,317.2 573.7,319.5 574.1,314.8 574.5,308.2 574.9,311.7 575.3,313.9 575.7,309.8 576.1,313.2 576.5,308.0 576.9,309.3 577.3,308.2 577.7,311.5 578.1,318.1 578.5,313.9 578.9,314.9 579.3,313.8 579.7,315.3 580.1,325.2 580.5,318.5 580.9,321.7 581.3,327.1 581.7,328.8 582.1,339.5 582.5,328.1 582.9,339.9 583.3,344.0 583.7,341.4 584.1,346.4 584.5,353.2 584.9,360.3 585.3,356.3 585.7,357.8 586.1,368.3 586.5,372.9 586.9,370.6 587.3,368.2 587.7,381.0 588.1,379.2 588.5,385.3 588.9,384.7 589.3,386.1 589.7,388.1 590.1,394.9 590.5,396.6 590.9,389.4 591.3,393.9 591.7,401.9 592.1,397.9 592.5,396.5 592.9,400.8 593.3,401.4 593.7,402.2 594.1,402.1 594.5,403.3 594.9,403.6 595.3,405.9 595.7,403.6 596.1,405.0 596.5,405.4 596.9,408.9 597.3,406.7 597.7,405.6 598.1,407.0 598.5,406.6 598.9,408.1 599.3,406.7 599.7,409.7 600.1,408.8 600.5,405.6 600.9,404.9 601.3,407.9 601.7,407.1 602.1,405.6 602.5,402.2 602.9,401.0 603.3,405.7 603.7,406.1 604.1,405.6 604.5,400.0 604.9,404.7 605.3,400.2 605.7,401.6 606.1,401.1 606.5,397.7 606.9,397.8 607.3,393.7 607.7,395.8 608.1,392.8 608.5,397.2 608.9,395.1 609.3,396.0 609.7,393.3 610.1,389.6 610.5,390.8 610.9,387.8 611.3,389.2 611.7,387.3 612.1,382.7 612.5,384.0 612.9,382.8 613.3,380.5 613.7,382.6 614.1,383.8 614.5,377.6 614.9,377.3 615.3,372.3 615.7,378.1 616.1,377.7 616.5,373.4 616.9,380.4 617.3,381.5 617.7,378.3 618.1,379.7 618.5,378.6 618.9,383.7 619.3,378.6 619.7,382.7 620.1,389.7 620.5,386.0 620.9,388.4 621.3,388.2 621.7,386.9 622.1,391.1 622.5,393.4 622.9,391.1 623.3,395.6 623.7,399.0 624.1,399.8 624.5,394.5 624.9,397.1 625.3,396.6 625.7,403.8 626.1,403.4 626.5,404.1 626.9,400.9 627.3,400.7 627.7,404.1 628.1,404.6 628.5,402.9 628.9,405.7 629.3,407.3 629.7,406.6 630.1,403.8 630.5,401.4 630.9,405.7 631.3,406.6 631.7,405.6 632.1,405.1 632.5,404.3 632.9,407.5 633.3,405.6 633.7,406.0 634.1,403.5 634.5,404.4 634.9,406.2 635.3,403.6 635.7,403.1 636.1,405.3 636.5,408.9 636.9,406.6 637.3,409.5 637.7,405.8 638.1,405.4 638.5,403.0 638.9,405.0 639.3,409.8 639.7,407.6 640.1,408.8 640.5,408.9 640.9,407.5 641.3,407.1 641.7,407.9 642.1,409.1 642.5,408.6 642.9,408.6 643.3,407.8 643.7,405.7 644.1,406.8 644.5,405.2 644.9,409.6 645.3,402.3 645.7,406.5 646.1,412.5 646.5,406.3 646.9,404.5 647.3,407.2 647.7,410.4 648.1,407.2 648.5,409.2 648.9,408.1 649.3,407.2 649.7,415.3 650.1,408.1 650.5,406.5 650.9,406.4 651.3,408.2 651.7,408.2 652.1,408.9 652.5,407.4 652.9,403.8 653.3,408.2 653.7,406.2 654.1,406.1 654.5,403.1 654.9,404.9 655.3,404.4 655.7,405.9 656.1,402.6 656.5,406.1 656.9,406.3 657.3,403.5 657.7,404.6 658.1,404.0 658.5,408.0 658.9,400.3 659.3,405.5 659.7,402.8 660.1,405.9 660.5,409.1 660.9,405.8 661.3,407.7 661.7,405.5 662.1,411.9 662.5,409.6 662.9,410.2 663.3,404.7 663.7,405.3 664.1,410.3 664.5,407.3 664.9,407.0 665.3,408.2 665.7,404.4 666.1,408.9 666.5,407.1 666.9,408.0 667.3,405.3 667.7,407.8 668.1,404.8 668.5,408.3 668.9,408.5 669.3,407.8 669.7,406.9 670.1,407.3" fill="none" stroke="#1a1a1a" stroke-width="0.5"/>
<polyline points="433.0,406.50 433.5,406.50 434.0,406.50 434.5,406.50 435.0,406.50 435.5,406.50 436.0,406.50 436.5,406.50 437.0,406.50 437.5,406.50 438.0,406.50 438.5,406.50 439.0,406.50 439.5,406.50 440.0,406.50 440.5,406.50 441.0,406.50 441.5,406.50 442.0,406.50 442.5,406.50 443.0,406.50 443.5,406.50 444.0,406.50 444.5,406.50 445.0,406.50 445.5,406.50 446.0,406.50 446.5,406.50 447.0,406.50 447.5,406.50 448.0,406.50 448.5,406.50 449.0,406.50 449.5,406.50 450.0,406.50 450.5,406.50 451.0,406.50 451.5,406.50 452.0,406.50 452.5,406.50 453.0,406.50 453.5,406.50 454.0,406.50 454.5,406.50 455.0,406.50 455.5,406.50 456.0,406.50 456.5,406.50 457.0,406.50 457.5,406.50 458.0,406.50 458.5,406.50 459.0,406.50 459.5,406.50 460.0,406.50 460.5,406.50 461.0,406.50 461.5,406.50 462.0,406.50 462.5,406.50 463.0,406.50 463.5,406.50 464.0,406.50 464.5,406.50 465.0,406.50 465.5,406.50 466.0,406.50 466.5,406.50 467.0,406.50 467.5,406.50 468.0,406.50 468.5,406.50 469.0,406.50 469.5,406.50 470.0,406.50 470.5,406.50 471.0,406.50 471.5,406.50 472.0,406.50 472.5,406.50 473.0,406.50 473.5,406.50 474.0,406.50 474.5,406.50 475.0,406.50 475.5,406.50 476.0,406.50 476.5,406.50 477.0,406.49 477.5,406.49 478.0,406.49 478.5,406.48 479.0,406.48 479.5,406.47 480.0,406.46 480.5,406.44 481.0,406.42 481.5,406.40 482.0,406.37 482.5,406.33 483.0,406.28 483.5,406.21 484.0,406.13 484.5,406.03 485.0,405.91 485.5,405.76 486.0,405.58 486.5,405.37 487.0,405.11 487.5,404.81 488.0,404.46 488.5,404.05 489.0,403.58 489.5,403.04 490.0,402.44 490.5,401.76 491.0,401.00 491.5,400.17 492.0,399.26 492.5,398.28 493.0,397.23 493.5,396.12 494.0,394.96 494.5,393.75 495.0,392.52 495.5,391.27 496.0,390.03 496.5,388.80 497.0,387.62 497.5,386.50 498.0,385.46 498.5,384.52 499.0,383.70 499.5,383.01 500.0,382.46 500.5,382.08 501.0,381.85 501.5,381.80 502.0,381.92 502.5,382.21 503.0,382.66 503.5,383.27 504.0,384.01 504.5,384.89 505.0,385.87 505.5,386.94 506.0,388.09 506.5,389.29 507.0,390.52 507.5,391.77 508.0,393.01 508.5,394.24 509.0,395.43 509.5,396.57 510.0,397.66 510.5,398.68 511.0,399.63 511.5,400.51 512.0,401.31 512.5,402.04 513.0,402.69 513.5,403.27 514.0,403.78 514.5,404.22 515.0,404.61 515.5,404.94 516.0,405.22 516.5,405.46 517.0,405.66 517.5,405.83 518.0,405.96 518.5,406.07 519.0,406.17 519.5,406.24 520.0,406.30 520.5,406.34 521.0,406.38 521.5,406.41 522.0,406.43 522.5,406.45 523.0,406.46 523.5,406.47 524.0,406.48 524.5,406.49 525.0,406.49 525.5,406.49 526.0,406.49" fill="none" stroke="#66b22e" stroke-width="2.2" stroke-linejoin="round"/>
<polyline points="522.0,406.48 522.5,406.47 523.0,406.46 523.5,406.45 524.0,406.44 524.5,406.42 525.0,406.39 525.5,406.36 526.0,406.32 526.5,406.26 527.0,406.20 527.5,406.12 528.0,406.03 528.5,405.92 529.0,405.78 529.5,405.62 530.0,405.44 530.5,405.22 531.0,404.98 531.5,404.70 532.0,404.38 532.5,404.03 533.0,403.65 533.5,403.22 534.0,402.77 534.5,402.28 535.0,401.77 535.5,401.24 536.0,400.69 536.5,400.13 537.0,399.57 537.5,399.03 538.0,398.50 538.5,397.99 539.0,397.53 539.5,397.11 540.0,396.75 540.5,396.46 541.0,396.23 541.5,396.08 542.0,396.01 542.5,396.01 543.0,396.10 543.5,396.27 544.0,396.51 544.5,396.82 545.0,397.19 545.5,397.62 546.0,398.09 546.5,398.60 547.0,399.13 547.5,399.69 548.0,400.24 548.5,400.80 549.0,401.35 549.5,401.88 550.0,402.38 550.5,402.86 551.0,403.31 551.5,403.73 552.0,404.11 552.5,404.45 553.0,404.76 553.5,405.03 554.0,405.27 554.5,405.48 555.0,405.66 555.5,405.81 556.0,405.94 556.5,406.05 557.0,406.14 557.5,406.21 558.0,406.27" fill="none" stroke="#17873d" stroke-width="2.2" stroke-linejoin="round"/>
<polyline points="485.0,406.50 485.5,406.50 486.0,406.50 486.5,406.50 487.0,406.50 487.5,406.50 488.0,406.50 488.5,406.50 489.0,406.50 489.5,406.50 490.0,406.50 490.5,406.50 491.0,406.50 491.5,406.50 492.0,406.50 492.5,406.50 493.0,406.50 493.5,406.50 494.0,406.50 494.5,406.50 495.0,406.50 495.5,406.50 496.0,406.50 496.5,406.50 497.0,406.50 497.5,406.50 498.0,406.50 498.5,406.50 499.0,406.50 499.5,406.50 500.0,406.50 500.5,406.50 501.0,406.50 501.5,406.50 502.0,406.50 502.5,406.50 503.0,406.50 503.5,406.50 504.0,406.50 504.5,406.50 505.0,406.50 505.5,406.50 506.0,406.50 506.5,406.50 507.0,406.50 507.5,406.50 508.0,406.50 508.5,406.50 509.0,406.50 509.5,406.50 510.0,406.50 510.5,406.50 511.0,406.50 511.5,406.50 512.0,406.50 512.5,406.50 513.0,406.50 513.5,406.50 514.0,406.50 514.5,406.50 515.0,406.50 515.5,406.50 516.0,406.50 516.5,406.50 517.0,406.50 517.5,406.50 518.0,406.50 518.5,406.50 519.0,406.50 519.5,406.50 520.0,406.50 520.5,406.50 521.0,406.50 521.5,406.50 522.0,406.50 522.5,406.50 523.0,406.50 523.5,406.50 524.0,406.50 524.5,406.50 525.0,406.50 525.5,406.50 526.0,406.50 526.5,406.50 527.0,406.50 527.5,406.50 528.0,406.50 528.5,406.50 529.0,406.50 529.5,406.50 530.0,406.50 530.5,406.50 531.0,406.50 531.5,406.50 532.0,406.50 532.5,406.50 533.0,406.50 533.5,406.50 534.0,406.50 534.5,406.50 535.0,406.50 535.5,406.50 536.0,406.50 536.5,406.50 537.0,406.50 537.5,406.50 538.0,406.50 538.5,406.50 539.0,406.50 539.5,406.50 540.0,406.50 540.5,406.50 541.0,406.50 541.5,406.50 542.0,406.50 542.5,406.50 543.0,406.50 543.5,406.50 544.0,406.50 544.5,406.50 545.0,406.50 545.5,406.49 546.0,406.49 546.5,406.49 547.0,406.48 547.5,406.48 548.0,406.47 548.5,406.46 549.0,406.45 549.5,406.44 550.0,406.42 550.5,406.39 551.0,406.36 551.5,406.32 552.0,406.27 552.5,406.21 553.0,406.13 553.5,406.03 554.0,405.91 554.5,405.76 555.0,405.58 555.5,405.37 556.0,405.10 556.5,404.79 557.0,404.42 557.5,403.97 558.0,403.45 558.5,402.84 559.0,402.12 559.5,401.30 560.0,400.34 560.5,399.25 561.0,398.01 561.5,396.60 562.0,395.02 562.5,393.25 563.0,391.28 563.5,389.11 564.0,386.73 564.5,384.13 565.0,381.32 565.5,378.29 566.0,375.05 566.5,371.62 567.0,368.00 567.5,364.22 568.0,360.29 568.5,356.25 569.0,352.13 569.5,347.96 570.0,343.78 570.5,339.64 571.0,335.57 571.5,331.63 572.0,327.86 572.5,324.31 573.0,321.03 573.5,318.06 574.0,315.43 574.5,313.19 575.0,311.37 575.5,309.99 576.0,309.07 576.5,308.64 577.0,308.69 577.5,309.22 578.0,310.23 578.5,311.70 579.0,313.60 579.5,315.92 580.0,318.62 580.5,321.66 581.0,325.00 581.5,328.60 582.0,332.41 582.5,336.37 583.0,340.46 583.5,344.61 584.0,348.79 584.5,352.96 585.0,357.07 585.5,361.08 586.0,364.98 586.5,368.74 587.0,372.32 587.5,375.71 588.0,378.91 588.5,381.90 589.0,384.67 589.5,387.22 590.0,389.56 590.5,391.69 591.0,393.62 591.5,395.35 592.0,396.90 592.5,398.27 593.0,399.48 593.5,400.54 594.0,401.47 594.5,402.27 595.0,402.97 595.5,403.56 596.0,404.07 596.5,404.50 597.0,404.86 597.5,405.16 598.0,405.41 598.5,405.62 599.0,405.79 599.5,405.94 600.0,406.05 600.5,406.14 601.0,406.22 601.5,406.28 602.0,406.33 602.5,406.37 603.0,406.40 603.5,406.42 604.0,406.44 604.5,406.45 605.0,406.47 605.5,406.47 606.0,406.48 606.5,406.49 607.0,406.49 607.5,406.49 608.0,406.49 608.5,406.50 609.0,406.50 609.5,406.50 610.0,406.50 610.5,406.50 611.0,406.50 611.5,406.50 612.0,406.50 612.5,406.50 613.0,406.50 613.5,406.50 614.0,406.50 614.5,406.50 615.0,406.50 615.5,406.50 616.0,406.50 616.5,406.50 617.0,406.50 617.5,406.50 618.0,406.50 618.5,406.50 619.0,406.50 619.5,406.50 620.0,406.50 620.5,406.50 621.0,406.50 621.5,406.50 622.0,406.50 622.5,406.50 623.0,406.50 623.5,406.50 624.0,406.50 624.5,406.50 625.0,406.50 625.5,406.50 626.0,406.50 626.5,406.50 627.0,406.50 627.5,406.50 628.0,406.50 628.5,406.50 629.0,406.50 629.5,406.50 630.0,406.50 630.5,406.50 631.0,406.50 631.5,406.50 632.0,406.50 632.5,406.50 633.0,406.50 633.5,406.50 634.0,406.50 634.5,406.50 635.0,406.50 635.5,406.50 636.0,406.50 636.5,406.50 637.0,406.50 637.5,406.50 638.0,406.50 638.5,406.50 639.0,406.50 639.5,406.50 640.0,406.50 640.5,406.50 641.0,406.50 641.5,406.50 642.0,406.50 642.5,406.50 643.0,406.50 643.5,406.50 644.0,406.50 644.5,406.50 645.0,406.50 645.5,406.50 646.0,406.50 646.5,406.50 647.0,406.50 647.5,406.50 648.0,406.50 648.5,406.50 649.0,406.50 649.5,406.50 650.0,406.50 650.5,406.50 651.0,406.50 651.5,406.50 652.0,406.50 652.5,406.50 653.0,406.50 653.5,406.50 654.0,406.50 654.5,406.50 655.0,406.50 655.5,406.50 656.0,406.50 656.5,406.50 657.0,406.50 657.5,406.50 658.0,406.50 658.5,406.50 659.0,406.50 659.5,406.50 660.0,406.50 660.5,406.50 661.0,406.50 661.5,406.50 662.0,406.50 662.5,406.50 663.0,406.50 663.5,406.50 664.0,406.50 664.5,406.50 665.0,406.50 665.5,406.50 666.0,406.50 666.5,406.50 667.0,406.50 667.5,406.50 668.0,406.50 668.5,406.50 669.0,406.50 669.5,406.50" fill="none" stroke="#2d4ea8" stroke-width="2.2" stroke-linejoin="round"/>
<polyline points="378.9,406.50 379.4,406.50 379.9,406.50 380.4,406.50 380.9,406.50 381.4,406.50 381.9,406.50 382.4,406.50 382.9,406.50 383.4,406.50 383.9,406.50 384.4,406.50 384.9,406.50 385.4,406.50 385.9,406.50 386.4,406.50 386.9,406.50 387.4,406.50 387.9,406.50 388.4,406.50 388.9,406.50 389.4,406.50 389.9,406.50 390.4,406.50 390.9,406.50 391.4,406.50 391.9,406.50 392.4,406.50 392.9,406.50 393.4,406.50 393.9,406.50 394.4,406.50 394.9,406.50 395.4,406.50 395.9,406.50 396.4,406.50 396.9,406.50 397.4,406.50 397.9,406.50 398.4,406.50 398.9,406.50 399.4,406.50 399.9,406.50 400.4,406.50 400.9,406.50 401.4,406.50 401.9,406.50 402.4,406.50 402.9,406.50 403.4,406.50 403.9,406.50 404.4,406.50 404.9,406.50 405.4,406.50 405.9,406.50 406.4,406.50 406.9,406.50 407.4,406.50 407.9,406.50 408.4,406.50 408.9,406.50 409.4,406.50 409.9,406.50 410.4,406.50 410.9,406.50 411.4,406.50 411.9,406.50 412.4,406.50 412.9,406.50 413.4,406.50 413.9,406.50 414.4,406.50 414.9,406.50 415.4,406.50 415.9,406.50 416.4,406.50 416.9,406.50 417.4,406.50 417.9,406.50 418.4,406.50 418.9,406.50 419.4,406.50 419.9,406.50 420.4,406.50 420.9,406.50 421.4,406.50 421.9,406.50 422.4,406.50 422.9,406.50 423.4,406.50 423.9,406.50 424.4,406.49 424.9,406.49 425.4,406.49 425.9,406.49 426.4,406.49 426.9,406.48 427.4,406.48 427.9,406.47 428.4,406.47 428.9,406.46 429.4,406.45 429.9,406.43 430.4,406.42 430.9,406.40 431.4,406.38 431.9,406.35 432.4,406.32 432.9,406.28 433.4,406.24 433.9,406.18 434.4,406.12 434.9,406.04 435.4,405.95 435.9,405.85 436.4,405.73 436.9,405.59 437.4,405.43 437.9,405.24 438.4,405.03 438.9,404.78 439.4,404.50 439.9,404.19 440.4,403.83 440.9,403.43 441.4,402.99 441.9,402.49 442.4,401.93 442.9,401.32 443.4,400.64 443.9,399.90 444.4,399.09 444.9,398.21 445.4,397.25 445.9,396.22 446.4,395.11 446.9,393.92 447.4,392.66 447.9,391.32 448.4,389.91 448.9,388.43 449.4,386.88 449.9,385.27 450.4,383.61 450.9,381.90 451.4,380.16 451.9,378.38 452.4,376.59 452.9,374.79 453.4,372.99 453.9,371.21 454.4,369.46 454.9,367.76 455.4,366.12 455.9,364.54 456.4,363.06 456.9,361.67 457.4,360.39 457.9,359.24 458.4,358.22 458.9,357.35 459.4,356.63 459.9,356.07 460.4,355.68 460.9,355.46 461.4,355.40 461.9,355.53 462.4,355.85 462.9,356.34 463.4,357.01 463.9,357.85 464.4,358.84 464.9,359.99 465.4,361.27 465.9,362.67 466.4,364.19 466.9,365.80 467.4,367.49 467.9,369.25 468.4,371.06 468.9,372.90 469.4,374.76 469.9,376.63 470.4,378.48 470.9,380.32 471.4,382.13 471.9,383.89 472.4,385.60 472.9,387.26 473.4,388.84 473.9,390.36 474.4,391.79 474.9,393.15 475.4,394.43 475.9,395.62 476.4,396.73 476.9,397.76 477.4,398.71 477.9,399.58 478.4,400.38 478.9,401.10 479.4,401.76 479.9,402.35 480.4,402.88 480.9,403.36 481.4,403.78 481.9,404.15 482.4,404.48 482.9,404.77 483.4,405.02 483.9,405.25 484.4,405.44 484.9,405.60 485.4,405.75 485.9,405.87 486.4,405.97 486.9,406.06 487.4,406.14 487.9,406.20 488.4,406.25 488.9,406.30 489.4,406.33 489.9,406.37 490.4,406.39 490.9,406.41 491.4,406.43 491.9,406.44 492.4,406.45 492.9,406.46 493.4,406.47 493.9,406.48 494.4,406.48 494.9,406.49 495.4,406.49 495.9,406.49 496.4,406.49 496.9,406.49 497.4,406.50 497.9,406.50 498.4,406.50 498.9,406.50 499.4,406.50 499.9,406.50 500.4,406.50 500.9,406.50 501.4,406.50 501.9,406.50 502.4,406.50 502.9,406.50 503.4,406.50 503.9,406.50 504.4,406.50 504.9,406.50 505.4,406.50 505.9,406.50 506.4,406.50 506.9,406.50 507.4,406.50 507.9,406.50 508.4,406.50 508.9,406.50 509.4,406.50 509.9,406.50 510.4,406.50 510.9,406.50 511.4,406.50 511.9,406.50 512.4,406.50 512.9,406.50 513.4,406.50 513.9,406.50 514.4,406.50 514.9,406.50 515.4,406.50 515.9,406.50 516.4,406.50 516.9,406.50 517.4,406.50 517.9,406.50 518.4,406.50 518.9,406.50 519.4,406.50 519.9,406.50 520.4,406.50 520.9,406.50 521.4,406.50 521.9,406.50 522.4,406.50 522.9,406.50 523.4,406.50 523.9,406.50 524.4,406.50 524.9,406.50 525.4,406.50 525.9,406.50 526.4,406.50 526.9,406.50 527.4,406.50 527.9,406.50 528.4,406.50 528.9,406.50 529.4,406.50 529.9,406.50 530.4,406.50 530.9,406.50 531.4,406.50 531.9,406.50 532.4,406.50 532.9,406.50 533.4,406.50 533.9,406.50 534.4,406.50 534.9,406.50 535.4,406.50 535.9,406.50 536.4,406.50 536.9,406.50 537.4,406.50 537.9,406.50 538.4,406.50 538.9,406.50 539.4,406.50 539.9,406.50 540.4,406.50 540.9,406.50 541.4,406.50 541.9,406.50 542.4,406.50 542.9,406.50 543.4,406.50 543.9,406.50 544.4,406.50 544.9,406.50 545.4,406.50 545.9,406.50 546.4,406.50 546.9,406.50 547.4,406.50 547.9,406.50 548.4,406.50 548.9,406.50 549.4,406.50 549.9,406.50 550.4,406.50 550.9,406.50 551.4,406.50 551.9,406.50 552.4,406.50 552.9,406.50 553.4,406.50 553.9,406.50 554.4,406.50 554.9,406.50 555.4,406.50 555.9,406.50 556.4,406.50 556.9,406.50 557.4,406.50 557.9,406.50 558.4,406.50 558.9,406.50 559.4,406.50 559.9,406.50 560.4,406.50 560.9,406.50 561.4,406.50 561.9,406.50 562.4,406.50 562.9,406.50 563.4,406.50 563.9,406.50 564.4,406.50 564.9,406.50 565.4,406.50 565.9,406.50 566.4,406.50 566.9,406.50 567.4,406.50 567.9,406.50 568.4,406.50 568.9,406.50 569.4,406.50 569.9,406.50 570.4,406.50 570.9,406.50 571.4,406.50 571.9,406.50 572.4,406.50 572.9,406.50 573.4,406.50 573.9,406.50 574.4,406.50 574.9,406.50 575.4,406.50 575.9,406.50 576.4,406.50 576.9,406.50 577.4,406.50 577.9,406.50 578.4,406.50 578.9,406.50 579.4,406.50 579.9,406.50 580.4,406.50 580.9,406.50 581.4,406.50 581.9,406.50 582.4,406.50 582.9,406.50 583.4,406.50 583.9,406.50 584.4,406.50 584.9,406.50 585.4,406.50 585.9,406.50 586.4,406.50 586.9,406.50 587.4,406.50 587.9,406.50 588.4,406.50 588.9,406.50 589.4,406.50 589.9,406.50 590.4,406.50 590.9,406.50 591.4,406.50 591.9,406.50 592.4,406.50 592.9,406.50 593.4,406.50 593.9,406.50 594.4,406.50 594.9,406.50 595.4,406.50 595.9,406.50 596.4,406.50 596.9,406.50 597.4,406.50 597.9,406.50 598.4,406.50 598.9,406.50 599.4,406.50 599.9,406.50 600.4,406.50 600.9,406.50 601.4,406.50 601.9,406.50 602.4,406.50 602.9,406.50 603.4,406.50 603.9,406.50 604.4,406.50 604.9,406.50 605.4,406.50 605.9,406.50 606.4,406.50 606.9,406.50 607.4,406.50 607.9,406.50 608.4,406.50 608.9,406.50 609.4,406.50 609.9,406.50 610.4,406.50 610.9,406.50 611.4,406.50 611.9,406.50 612.4,406.50 612.9,406.50 613.4,406.50 613.9,406.50 614.4,406.50 614.9,406.50 615.4,406.50 615.9,406.50 616.4,406.50 616.9,406.50 617.4,406.50 617.9,406.50 618.4,406.50 618.9,406.50 619.4,406.50 619.9,406.50 620.4,406.50 620.9,406.50 621.4,406.50 621.9,406.50 622.4,406.50 622.9,406.50 623.4,406.50 623.9,406.50 624.4,406.50 624.9,406.50 625.4,406.50 625.9,406.50 626.4,406.50 626.9,406.50 627.4,406.50 627.9,406.50 628.4,406.50 628.9,406.50 629.4,406.50 629.9,406.50 630.4,406.50 630.9,406.50 631.4,406.50 631.9,406.50 632.4,406.50 632.9,406.50 633.4,406.50 633.9,406.50 634.4,406.50 634.9,406.50 635.4,406.50 635.9,406.50 636.4,406.50 636.9,406.50 637.4,406.50 637.9,406.50 638.4,406.50 638.9,406.50 639.4,406.50 639.9,406.50 640.4,406.50 640.9,406.50 641.4,406.50 641.9,406.50 642.4,406.50 642.9,406.50 643.4,406.50 643.9,406.50 644.4,406.50 644.9,406.50 645.4,406.50 645.9,406.50 646.4,406.50 646.9,406.50 647.4,406.50 647.9,406.50 648.4,406.50 648.9,406.50 649.4,406.50 649.9,406.50 650.4,406.50 650.9,406.50 651.4,406.50 651.9,406.50 652.4,406.50 652.9,406.50 653.4,406.50 653.9,406.50 654.4,406.50 654.9,406.50 655.4,406.50 655.9,406.50 656.4,406.50 656.9,406.50 657.4,406.50 657.9,406.50 658.4,406.50 658.9,406.50 659.4,406.50 659.9,406.50 660.4,406.50 660.9,406.50 661.4,406.50 661.9,406.50 662.4,406.50 662.9,406.50 663.4,406.50 663.9,406.50 664.4,406.50 664.9,406.50 665.4,406.50 665.9,406.50 666.4,406.50 666.9,406.50 667.4,406.50 667.9,406.50 668.4,406.50 668.9,406.50 669.4,406.50 669.9,406.50" fill="none" stroke="#dc1f2b" stroke-width="2.2" stroke-linejoin="round"/>
<polyline points="594.0,406.49 594.5,406.48 595.0,406.48 595.5,406.47 596.0,406.45 596.5,406.44 597.0,406.41 597.5,406.38 598.0,406.35 598.5,406.30 599.0,406.23 599.5,406.15 600.0,406.04 600.5,405.91 601.0,405.75 601.5,405.55 602.0,405.31 602.5,405.02 603.0,404.68 603.5,404.26 604.0,403.78 604.5,403.22 605.0,402.58 605.5,401.84 606.0,401.02 606.5,400.10 607.0,399.08 607.5,397.97 608.0,396.77 608.5,395.49 609.0,394.14 609.5,392.73 610.0,391.29 610.5,389.83 611.0,388.38 611.5,386.95 612.0,385.58 612.5,384.29 613.0,383.11 613.5,382.06 614.0,381.17 614.5,380.45 615.0,379.93 615.5,379.61 616.0,379.50 616.5,379.61 617.0,379.93 617.5,380.45 618.0,381.17 618.5,382.06 619.0,383.11 619.5,384.29 620.0,385.58 620.5,386.95 621.0,388.38 621.5,389.83 622.0,391.29 622.5,392.73 623.0,394.14 623.5,395.49 624.0,396.77 624.5,397.97 625.0,399.08 625.5,400.10 626.0,401.02 626.5,401.84 627.0,402.58 627.5,403.22 628.0,403.78 628.5,404.26 629.0,404.68 629.5,405.02 630.0,405.31 630.5,405.55 631.0,405.75 631.5,405.91 632.0,406.04 632.5,406.15 633.0,406.23 633.5,406.30 634.0,406.35 634.5,406.38 635.0,406.41 635.5,406.44 636.0,406.45 636.5,406.47 637.0,406.48 637.5,406.48 638.0,406.49 638.5,406.49 639.0,406.49 639.5,406.50 640.0,406.50 640.5,406.50 641.0,406.50 641.5,406.50 642.0,406.50 642.5,406.50 643.0,406.50 643.5,406.50 644.0,406.50 644.5,406.50 645.0,406.50 645.5,406.50 646.0,406.50 646.5,406.50 647.0,406.50 647.5,406.50 648.0,406.50 648.5,406.50 649.0,406.50 649.5,406.50 650.0,406.50 650.5,406.50 651.0,406.50 651.5,406.50 652.0,406.50 652.5,406.50 653.0,406.50 653.5,406.50 654.0,406.50 654.5,406.50 655.0,406.50 655.5,406.50 656.0,406.50 656.5,406.50 657.0,406.50 657.5,406.50 658.0,406.50 658.5,406.50 659.0,406.50 659.5,406.50 660.0,406.50 660.5,406.50 661.0,406.50 661.5,406.50 662.0,406.50 662.5,406.50 663.0,406.50 663.5,406.50 664.0,406.50 664.5,406.50 665.0,406.50 665.5,406.50 666.0,406.50 666.5,406.50 667.0,406.50 667.5,406.50 668.0,406.50 668.5,406.50 669.0,406.50 669.5,406.50 670.0,406.50" fill="none" stroke="#dc1f2b" stroke-width="2.2" stroke-linejoin="round"/>
<path d="M361.3,6.3H670.5V425.3H361.3ZM361.3,145.5H670.5M361.3,285.5H670.5" fill="none" stroke="#333" stroke-width="1.3"/>
<path d="M361.30,425.3V430.6M399.95,425.3V430.6M438.60,425.3V430.6M477.25,425.3V430.6M515.90,425.3V430.6M554.55,425.3V430.6M593.20,425.3V430.6M631.85,425.3V430.6M670.50,425.3V430.6M380.62,425.3V428.5M419.28,425.3V428.5M457.93,425.3V428.5M496.58,425.3V428.5M535.23,425.3V428.5M573.88,425.3V428.5M612.53,425.3V428.5M651.17,425.3V428.5" stroke="#333" stroke-width="1.3" fill="none"/>
<text x="361.30" y="445.3" font-family="Liberation Sans, sans-serif" font-size="13.5" font-weight="bold" text-anchor="middle">1190</text>
<text x="399.95" y="445.3" font-family="Liberation Sans, sans-serif" font-size="13.5" font-weight="bold" text-anchor="middle">1180</text>
<text x="438.60" y="445.3" font-family="Liberation Sans, sans-serif" font-size="13.5" font-weight="bold" text-anchor="middle">1170</text>
<text x="477.25" y="445.3" font-family="Liberation Sans, sans-serif" font-size="13.5" font-weight="bold" text-anchor="middle">1160</text>
<text x="515.90" y="445.3" font-family="Liberation Sans, sans-serif" font-size="13.5" font-weight="bold" text-anchor="middle">1150</text>
<text x="554.55" y="445.3" font-family="Liberation Sans, sans-serif" font-size="13.5" font-weight="bold" text-anchor="middle">1140</text>
<text x="593.20" y="445.3" font-family="Liberation Sans, sans-serif" font-size="13.5" font-weight="bold" text-anchor="middle">1130</text>
<text x="631.85" y="445.3" font-family="Liberation Sans, sans-serif" font-size="13.5" font-weight="bold" text-anchor="middle">1120</text>
<text x="670.50" y="445.3" font-family="Liberation Sans, sans-serif" font-size="13.5" font-weight="bold" text-anchor="middle">1110</text>
<text x="435" y="471.9" font-family="Liberation Sans, sans-serif" font-size="16.2" font-weight="bold" textLength="161" lengthAdjust="spacingAndGlyphs">Binding Energy (eV)</text>
<text transform="translate(340.6,214.85) rotate(-90)" font-family="Liberation Sans, sans-serif" font-size="17.5" font-weight="bold" text-anchor="middle">Intensity (a.u)</text>
<text x="368.3" y="23.7" font-family="Liberation Sans, sans-serif" font-size="10" font-weight="bold">B</text>
<text x="368.2" y="166" font-family="Liberation Sans, sans-serif" font-size="10" font-weight="bold">C</text>
<text x="367" y="304" font-family="Liberation Sans, sans-serif" font-size="10" font-weight="bold">D</text>
<text x="451.2" y="46.4" font-family="Liberation Sans, sans-serif" font-size="13.6" font-weight="bold">Eu</text>
<text x="468.5" y="38.9" font-family="Liberation Sans, sans-serif" font-size="12.6" font-weight="bold">3+</text>
<text x="584.1" y="31.2" font-family="Liberation Sans, sans-serif" font-size="13.6" font-weight="bold">Eu</text>
<text x="601.4" y="23.7" font-family="Liberation Sans, sans-serif" font-size="12.6" font-weight="bold">3+</text>
<text x="447.2" y="185.1" font-family="Liberation Sans, sans-serif" font-size="13.6" font-weight="bold">Eu</text>
<text x="464.5" y="177.6" font-family="Liberation Sans, sans-serif" font-size="12.6" font-weight="bold">3+</text>
<text x="486.2" y="203.7" font-family="Liberation Sans, sans-serif" font-size="13.6" font-weight="bold">Eu</text>
<text x="503.5" y="196.2" font-family="Liberation Sans, sans-serif" font-size="12.6" font-weight="bold">2+</text>
<text x="537.0" y="174.3" font-family="Liberation Sans, sans-serif" font-size="13.6" font-weight="bold">Eu</text>
<text x="554.3" y="166.8" font-family="Liberation Sans, sans-serif" font-size="12.6" font-weight="bold">3+</text>
<text x="608.2" y="198.5" font-family="Liberation Sans, sans-serif" font-size="13.6" font-weight="bold">Eu</text>
<text x="625.5" y="191.0" font-family="Liberation Sans, sans-serif" font-size="12.6" font-weight="bold">2+</text>
<text x="451.2" y="338.1" font-family="Liberation Sans, sans-serif" font-size="13.6" font-weight="bold">Eu</text>
<text x="468.5" y="330.6" font-family="Liberation Sans, sans-serif" font-size="12.6" font-weight="bold">3+</text>
<text x="487.9" y="367.9" font-family="Liberation Sans, sans-serif" font-size="13.6" font-weight="bold">Eu</text>
<text x="505.2" y="360.4" font-family="Liberation Sans, sans-serif" font-size="12.6" font-weight="bold">2+</text>
<text x="538.1" y="310.9" font-family="Liberation Sans, sans-serif" font-size="13.6" font-weight="bold">Eu</text>
<text x="555.4" y="303.4" font-family="Liberation Sans, sans-serif" font-size="12.6" font-weight="bold">3+</text>
<text x="605.2" y="364.9" font-family="Liberation Sans, sans-serif" font-size="13.6" font-weight="bold">Eu</text>
<text x="622.5" y="357.4" font-family="Liberation Sans, sans-serif" font-size="12.6" font-weight="bold">2+</text>
</svg></body></html>
